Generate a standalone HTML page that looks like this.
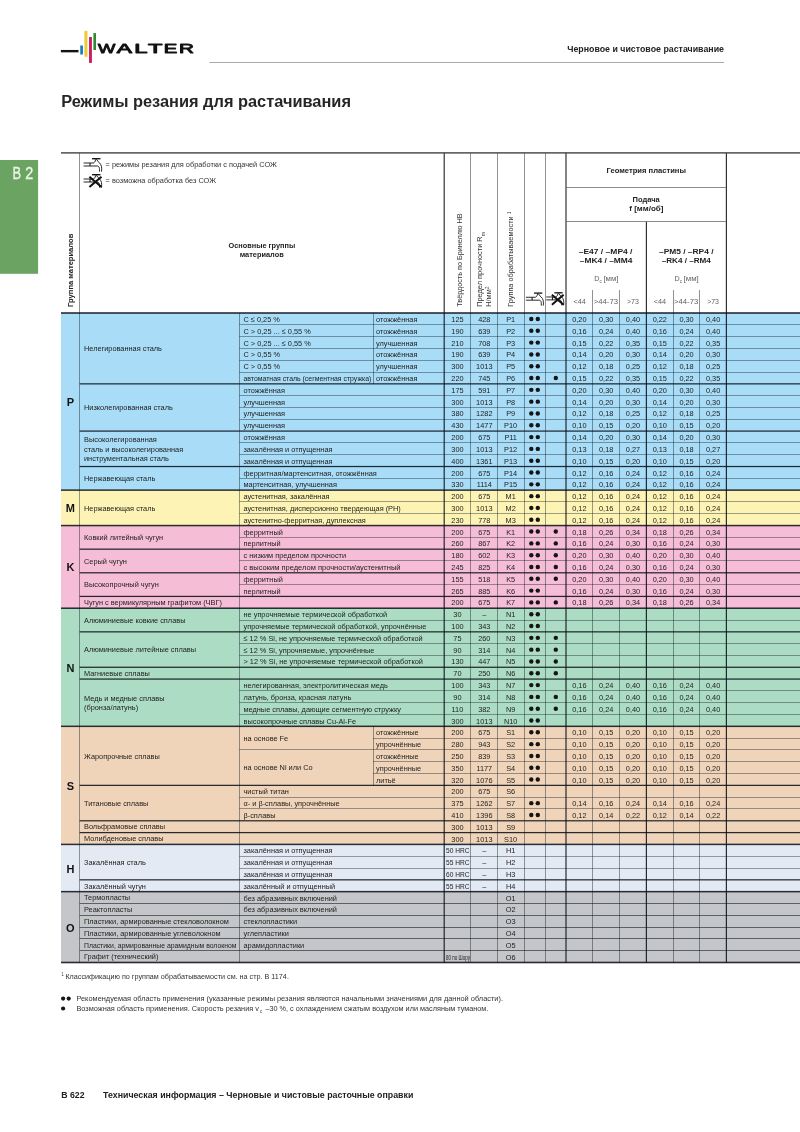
<!DOCTYPE html>
<html lang="ru"><head><meta charset="utf-8"><title>Режимы резания для растачивания</title>
<style>
html,body{margin:0;padding:0;background:#fff}
body{width:800px;height:1132px;overflow:hidden}
svg{display:block;font-family:"Liberation Sans",sans-serif}
text{white-space:pre}
</style></head><body>
<svg role="img" aria-label="Режимы резания для растачивания" width="800" height="1132" viewBox="0 0 800 1132">
<rect x="0" y="0" width="800" height="1132" fill="#ffffff"/>
<g id="page-header">
<rect x="209.50" y="62.00" width="514.50" height="1.00" fill="#a9a9a9"/>
<text x="567.20" y="52.00" font-size="8.7" font-weight="bold" fill="#222" textLength="156.80" lengthAdjust="spacingAndGlyphs">Черновое и чистовое растачивание</text>
<rect x="60.90" y="49.95" width="17.60" height="2.40" fill="#141414"/>
<rect x="80.25" y="45.50" width="2.70" height="9.00" fill="#1c7bbf"/>
<rect x="84.40" y="30.90" width="3.00" height="25.85" fill="#f2c932"/>
<rect x="89.05" y="37.05" width="2.85" height="25.85" fill="#cc1a5a"/>
<rect x="93.40" y="33.10" width="2.60" height="16.90" fill="#2f8a36"/>
<text y="53.10" font-size="13.2" fill="#111" stroke="#111" stroke-width="0.9" stroke-linejoin="round"><tspan x="98.00" textLength="17.30" lengthAdjust="spacingAndGlyphs">W</tspan><tspan x="116.70" textLength="15.20" lengthAdjust="spacingAndGlyphs">A</tspan><tspan x="134.20" textLength="13.30" lengthAdjust="spacingAndGlyphs">L</tspan><tspan x="147.90" textLength="14.50" lengthAdjust="spacingAndGlyphs">T</tspan><tspan x="163.80" textLength="13.50" lengthAdjust="spacingAndGlyphs">E</tspan><tspan x="178.90" textLength="14.90" lengthAdjust="spacingAndGlyphs">R</tspan></text>
</g>
<g id="page-title">
<text x="61.20" y="107.30" font-size="16" font-weight="bold" fill="#262626" textLength="289.80" lengthAdjust="spacingAndGlyphs">Режимы резания для растачивания</text>
</g>
<g id="chapter-tab">
<rect x="0.00" y="160.00" width="38.10" height="113.80" fill="#6ba462"/>
<text y="178.70" font-size="16.2" fill="#eaf6e2" stroke="#eaf6e2" stroke-width="0.35"><tspan x="12.60" textLength="8.60" lengthAdjust="spacingAndGlyphs">B</tspan> <tspan x="25.20" textLength="8.00" lengthAdjust="spacingAndGlyphs">2</tspan></text>
</g>
<g id="cutting-data-table">
<rect x="61.00" y="313.00" width="739.00" height="177.13" fill="#a8dcf7"/>
<rect x="61.00" y="490.13" width="739.00" height="35.43" fill="#fdf3b5"/>
<rect x="61.00" y="525.56" width="739.00" height="82.66" fill="#f6bdd7"/>
<rect x="61.00" y="608.22" width="739.00" height="118.09" fill="#acdcc3"/>
<rect x="61.00" y="726.32" width="739.00" height="118.09" fill="#f0d4ba"/>
<rect x="61.00" y="844.40" width="739.00" height="47.24" fill="#e3eaf4"/>
<rect x="61.00" y="891.64" width="739.00" height="70.85" fill="#c5c6c9"/>
<rect x="79.10" y="152.90" width="0.80" height="160.10" fill="#767676"/>
<rect x="470.10" y="152.90" width="0.80" height="160.10" fill="#767676"/>
<rect x="497.10" y="152.90" width="0.80" height="160.10" fill="#767676"/>
<rect x="524.10" y="152.90" width="0.80" height="160.10" fill="#767676"/>
<rect x="545.10" y="152.90" width="0.80" height="160.10" fill="#767676"/>
<rect x="443.62" y="152.90" width="1.15" height="160.10" fill="#2b2b2b"/>
<rect x="565.42" y="152.90" width="1.15" height="160.10" fill="#2b2b2b"/>
<rect x="725.82" y="152.90" width="1.15" height="160.10" fill="#2b2b2b"/>
<rect x="645.82" y="221.60" width="1.15" height="91.40" fill="#2b2b2b"/>
<rect x="592.10" y="290.00" width="0.80" height="23.00" fill="#767676"/>
<rect x="619.10" y="290.00" width="0.80" height="23.00" fill="#767676"/>
<rect x="673.10" y="290.00" width="0.80" height="23.00" fill="#767676"/>
<rect x="699.10" y="290.00" width="0.80" height="23.00" fill="#767676"/>
<rect x="566.00" y="187.10" width="160.40" height="0.80" fill="#6e6e6e"/>
<rect x="566.00" y="221.10" width="160.40" height="0.80" fill="#6e6e6e"/>
<rect x="61.00" y="152.22" width="739.00" height="1.35" fill="#3c3c3c"/>
<rect x="79.17" y="313.00" width="0.65" height="649.50" fill="rgba(10,20,30,0.64)"/>
<rect x="239.18" y="313.00" width="0.65" height="649.50" fill="rgba(10,20,30,0.64)"/>
<rect x="373.18" y="313.00" width="0.65" height="70.85" fill="rgba(10,20,30,0.64)"/>
<rect x="373.18" y="726.32" width="0.65" height="59.04" fill="rgba(10,20,30,0.64)"/>
<rect x="470.18" y="313.00" width="0.65" height="649.50" fill="rgba(10,20,30,0.64)"/>
<rect x="497.18" y="313.00" width="0.65" height="649.50" fill="rgba(10,20,30,0.64)"/>
<rect x="524.17" y="313.00" width="0.65" height="649.50" fill="rgba(10,20,30,0.64)"/>
<rect x="545.17" y="313.00" width="0.65" height="649.50" fill="rgba(10,20,30,0.64)"/>
<rect x="592.17" y="313.00" width="0.65" height="649.50" fill="rgba(10,20,30,0.64)"/>
<rect x="619.17" y="313.00" width="0.65" height="649.50" fill="rgba(10,20,30,0.64)"/>
<rect x="673.17" y="313.00" width="0.65" height="649.50" fill="rgba(10,20,30,0.64)"/>
<rect x="699.17" y="313.00" width="0.65" height="649.50" fill="rgba(10,20,30,0.64)"/>
<rect x="443.60" y="313.00" width="1.20" height="649.50" fill="rgba(8,14,22,0.86)"/>
<rect x="565.40" y="313.00" width="1.20" height="649.50" fill="rgba(8,14,22,0.86)"/>
<rect x="645.80" y="313.00" width="1.20" height="649.50" fill="rgba(8,14,22,0.86)"/>
<rect x="725.80" y="313.00" width="1.20" height="649.50" fill="rgba(8,14,22,0.86)"/>
<rect x="239.40" y="324.20" width="560.60" height="0.60" fill="rgba(10,20,30,0.64)"/>
<rect x="239.40" y="336.20" width="560.60" height="0.60" fill="rgba(10,20,30,0.64)"/>
<rect x="239.40" y="348.20" width="560.60" height="0.60" fill="rgba(10,20,30,0.64)"/>
<rect x="239.40" y="360.20" width="560.60" height="0.60" fill="rgba(10,20,30,0.64)"/>
<rect x="239.40" y="372.20" width="560.60" height="0.60" fill="rgba(10,20,30,0.64)"/>
<rect x="79.70" y="383.23" width="720.30" height="1.25" fill="rgba(8,14,22,0.86)"/>
<rect x="239.40" y="395.20" width="560.60" height="0.60" fill="rgba(10,20,30,0.64)"/>
<rect x="239.40" y="407.20" width="560.60" height="0.60" fill="rgba(10,20,30,0.64)"/>
<rect x="239.40" y="419.20" width="560.60" height="0.60" fill="rgba(10,20,30,0.64)"/>
<rect x="79.70" y="430.46" width="720.30" height="1.25" fill="rgba(8,14,22,0.86)"/>
<rect x="239.40" y="442.20" width="560.60" height="0.60" fill="rgba(10,20,30,0.64)"/>
<rect x="239.40" y="454.20" width="560.60" height="0.60" fill="rgba(10,20,30,0.64)"/>
<rect x="79.70" y="465.89" width="720.30" height="1.25" fill="rgba(8,14,22,0.86)"/>
<rect x="239.40" y="478.20" width="560.60" height="0.60" fill="rgba(10,20,30,0.64)"/>
<rect x="61.00" y="489.38" width="739.00" height="1.50" fill="rgba(8,14,22,0.86)"/>
<rect x="239.40" y="501.20" width="560.60" height="0.60" fill="rgba(10,20,30,0.64)"/>
<rect x="239.40" y="513.20" width="560.60" height="0.60" fill="rgba(10,20,30,0.64)"/>
<rect x="61.00" y="524.81" width="739.00" height="1.50" fill="rgba(8,14,22,0.86)"/>
<rect x="239.40" y="537.20" width="560.60" height="0.60" fill="rgba(10,20,30,0.64)"/>
<rect x="79.70" y="548.55" width="720.30" height="1.25" fill="rgba(8,14,22,0.86)"/>
<rect x="239.40" y="560.20" width="560.60" height="0.60" fill="rgba(10,20,30,0.64)"/>
<rect x="79.70" y="572.17" width="720.30" height="1.25" fill="rgba(8,14,22,0.86)"/>
<rect x="239.40" y="584.20" width="560.60" height="0.60" fill="rgba(10,20,30,0.64)"/>
<rect x="79.70" y="595.79" width="720.30" height="1.25" fill="rgba(8,14,22,0.86)"/>
<rect x="61.00" y="607.47" width="739.00" height="1.50" fill="rgba(8,14,22,0.86)"/>
<rect x="239.40" y="620.20" width="560.60" height="0.60" fill="rgba(10,20,30,0.64)"/>
<rect x="79.70" y="631.22" width="720.30" height="1.25" fill="rgba(8,14,22,0.86)"/>
<rect x="239.40" y="643.20" width="560.60" height="0.60" fill="rgba(10,20,30,0.64)"/>
<rect x="239.40" y="655.20" width="560.60" height="0.60" fill="rgba(10,20,30,0.64)"/>
<rect x="79.70" y="666.64" width="720.30" height="1.25" fill="rgba(8,14,22,0.86)"/>
<rect x="79.70" y="678.45" width="720.30" height="1.25" fill="rgba(8,14,22,0.86)"/>
<rect x="239.40" y="690.20" width="560.60" height="0.60" fill="rgba(10,20,30,0.64)"/>
<rect x="239.40" y="702.20" width="560.60" height="0.60" fill="rgba(10,20,30,0.64)"/>
<rect x="239.40" y="714.20" width="560.60" height="0.60" fill="rgba(10,20,30,0.64)"/>
<rect x="61.00" y="725.57" width="739.00" height="1.50" fill="rgba(8,14,22,0.86)"/>
<rect x="373.00" y="738.20" width="427.00" height="0.60" fill="rgba(10,20,30,0.64)"/>
<rect x="239.40" y="749.20" width="560.60" height="0.60" fill="rgba(10,20,30,0.64)"/>
<rect x="373.00" y="761.20" width="427.00" height="0.60" fill="rgba(10,20,30,0.64)"/>
<rect x="373.00" y="773.20" width="427.00" height="0.60" fill="rgba(10,20,30,0.64)"/>
<rect x="79.70" y="784.73" width="720.30" height="1.25" fill="rgba(8,14,22,0.86)"/>
<rect x="239.40" y="797.20" width="560.60" height="0.60" fill="rgba(10,20,30,0.64)"/>
<rect x="239.40" y="808.20" width="560.60" height="0.60" fill="rgba(10,20,30,0.64)"/>
<rect x="79.70" y="820.16" width="720.30" height="1.25" fill="rgba(8,14,22,0.86)"/>
<rect x="79.70" y="831.97" width="720.30" height="1.25" fill="rgba(8,14,22,0.86)"/>
<rect x="61.00" y="843.65" width="739.00" height="1.50" fill="rgba(8,14,22,0.86)"/>
<rect x="239.40" y="856.20" width="560.60" height="0.60" fill="rgba(10,20,30,0.64)"/>
<rect x="239.40" y="868.20" width="560.60" height="0.60" fill="rgba(10,20,30,0.64)"/>
<rect x="79.70" y="879.21" width="720.30" height="1.25" fill="rgba(8,14,22,0.86)"/>
<rect x="61.00" y="890.89" width="739.00" height="1.50" fill="rgba(8,14,22,0.86)"/>
<rect x="79.70" y="903.05" width="720.30" height="0.90" fill="rgba(10,20,30,0.64)"/>
<rect x="79.70" y="915.05" width="720.30" height="0.90" fill="rgba(10,20,30,0.64)"/>
<rect x="79.70" y="927.05" width="720.30" height="0.90" fill="rgba(10,20,30,0.64)"/>
<rect x="79.70" y="938.05" width="720.30" height="0.90" fill="rgba(10,20,30,0.64)"/>
<rect x="79.70" y="950.05" width="720.30" height="0.90" fill="rgba(10,20,30,0.64)"/>
<rect x="61.00" y="312.20" width="739.00" height="1.60" fill="rgba(8,14,22,0.86)"/>
<rect x="61.00" y="961.70" width="739.00" height="1.60" fill="rgba(8,14,22,0.86)"/>
<text x="66.68" y="406.07" font-size="11" font-weight="bold" fill="#111" textLength="7.34" lengthAdjust="spacingAndGlyphs">P</text>
<text x="65.77" y="512.35" font-size="11" font-weight="bold" fill="#111" textLength="9.16" lengthAdjust="spacingAndGlyphs">M</text>
<text x="66.38" y="571.39" font-size="11" font-weight="bold" fill="#111" textLength="7.94" lengthAdjust="spacingAndGlyphs">K</text>
<text x="66.38" y="671.77" font-size="11" font-weight="bold" fill="#111" textLength="7.94" lengthAdjust="spacingAndGlyphs">N</text>
<text x="66.68" y="789.86" font-size="11" font-weight="bold" fill="#111" textLength="7.34" lengthAdjust="spacingAndGlyphs">S</text>
<text x="66.38" y="872.52" font-size="11" font-weight="bold" fill="#111" textLength="7.94" lengthAdjust="spacingAndGlyphs">H</text>
<text x="66.07" y="931.57" font-size="11" font-weight="bold" fill="#111" textLength="8.56" lengthAdjust="spacingAndGlyphs">O</text>
<text x="84.00" y="351.23" font-size="8.0" fill="#1d1d1b" textLength="77.90" lengthAdjust="spacingAndGlyphs">Нелегированная сталь</text>
<text x="84.00" y="410.27" font-size="8.0" fill="#1d1d1b" textLength="88.77" lengthAdjust="spacingAndGlyphs">Низколегированная сталь</text>
<text x="84.00" y="442.10" font-size="8.0" fill="#1d1d1b" textLength="72.79" lengthAdjust="spacingAndGlyphs">Высоколегированная</text>
<text x="84.00" y="451.60" font-size="8.0" fill="#1d1d1b" textLength="99.18" lengthAdjust="spacingAndGlyphs">сталь и высоколегированная</text>
<text x="84.00" y="461.10" font-size="8.0" fill="#1d1d1b" textLength="84.94" lengthAdjust="spacingAndGlyphs">инструментальная сталь</text>
<text x="84.00" y="481.13" font-size="8.0" fill="#1d1d1b" textLength="71.33" lengthAdjust="spacingAndGlyphs">Нержавеющая сталь</text>
<text x="84.00" y="510.65" font-size="8.0" fill="#1d1d1b" textLength="71.33" lengthAdjust="spacingAndGlyphs">Нержавеющая сталь</text>
<text x="84.00" y="540.17" font-size="8.0" fill="#1d1d1b" textLength="79.13" lengthAdjust="spacingAndGlyphs">Ковкий литейный чугун</text>
<text x="84.00" y="563.79" font-size="8.0" fill="#1d1d1b" textLength="42.89" lengthAdjust="spacingAndGlyphs">Серый чугун</text>
<text x="84.00" y="587.41" font-size="8.0" fill="#1d1d1b" textLength="74.75" lengthAdjust="spacingAndGlyphs">Высокопрочный чугун</text>
<text x="84.00" y="605.12" font-size="8.0" fill="#1d1d1b" textLength="137.85" lengthAdjust="spacingAndGlyphs">Чугун с вермикулярным графитом (ЧВГ)</text>
<text x="84.00" y="622.83" font-size="8.0" fill="#1d1d1b" textLength="101.45" lengthAdjust="spacingAndGlyphs">Алюминиевые ковкие сплавы</text>
<text x="84.00" y="652.36" font-size="8.0" fill="#1d1d1b" textLength="112.06" lengthAdjust="spacingAndGlyphs">Алюминиевые литейные сплавы</text>
<text x="84.00" y="675.97" font-size="8.0" fill="#1d1d1b" textLength="65.85" lengthAdjust="spacingAndGlyphs">Магниевые сплавы</text>
<text x="84.00" y="700.75" font-size="8.0" fill="#1d1d1b" textLength="80.51" lengthAdjust="spacingAndGlyphs">Медь и медные сплавы</text>
<text x="84.00" y="710.25" font-size="8.0" fill="#1d1d1b" textLength="54.14" lengthAdjust="spacingAndGlyphs">(бронза/латунь)</text>
<text x="84.00" y="758.64" font-size="8.0" fill="#1d1d1b" textLength="75.75" lengthAdjust="spacingAndGlyphs">Жаропрочные сплавы</text>
<text x="84.00" y="805.87" font-size="8.0" fill="#1d1d1b" textLength="64.41" lengthAdjust="spacingAndGlyphs">Титановые сплавы</text>
<text x="84.00" y="829.49" font-size="8.0" fill="#1d1d1b" textLength="80.96" lengthAdjust="spacingAndGlyphs">Вольфрамовые сплавы</text>
<text x="84.00" y="841.30" font-size="8.0" fill="#1d1d1b" textLength="79.57" lengthAdjust="spacingAndGlyphs">Молибденовые сплавы</text>
<text x="84.00" y="864.92" font-size="8.0" fill="#1d1d1b" textLength="61.85" lengthAdjust="spacingAndGlyphs">Закалённая сталь</text>
<text x="84.00" y="888.54" font-size="8.0" fill="#1d1d1b" textLength="61.92" lengthAdjust="spacingAndGlyphs">Закалённый чугун</text>
<text x="84.00" y="900.35" font-size="8.0" fill="#1d1d1b" textLength="46.14" lengthAdjust="spacingAndGlyphs">Термопласты</text>
<text x="84.00" y="912.15" font-size="8.0" fill="#1d1d1b" textLength="48.17" lengthAdjust="spacingAndGlyphs">Реактопласты</text>
<text x="84.00" y="923.96" font-size="8.0" fill="#1d1d1b" textLength="144.79" lengthAdjust="spacingAndGlyphs">Пластики, армированные стекловолокном</text>
<text x="84.00" y="935.77" font-size="8.0" fill="#1d1d1b" textLength="136.54" lengthAdjust="spacingAndGlyphs">Пластики, армированные углеволокном</text>
<text x="84.00" y="947.58" font-size="8.0" fill="#1d1d1b" textLength="152.50" lengthAdjust="spacingAndGlyphs">Пластики, армированные арамидным волокном</text>
<text x="84.00" y="959.39" font-size="8.0" fill="#1d1d1b" textLength="74.37" lengthAdjust="spacingAndGlyphs">Графит (технический)</text>
<text x="243.50" y="322.00" font-size="8.0" fill="#1d1d1b" textLength="36.36" lengthAdjust="spacingAndGlyphs">C ≤ 0,25 %</text>
<text x="376.00" y="322.00" font-size="8.0" fill="#1d1d1b" textLength="41.38" lengthAdjust="spacingAndGlyphs">отожжённая</text>
<text x="451.31" y="322.00" font-size="8.0" fill="#1d1d1b" textLength="12.28" lengthAdjust="spacingAndGlyphs">125</text>
<text x="478.16" y="322.00" font-size="8.0" fill="#1d1d1b" textLength="12.28" lengthAdjust="spacingAndGlyphs">428</text>
<text x="506.15" y="322.00" font-size="8.0" fill="#1d1d1b" textLength="9.00" lengthAdjust="spacingAndGlyphs">P1</text>
<circle cx="531.3" cy="319.00" r="2.2" fill="#151515"/><circle cx="537.8" cy="319.00" r="2.2" fill="#151515"/>
<text x="572.24" y="322.00" font-size="8.0" fill="#1d1d1b" textLength="14.32" lengthAdjust="spacingAndGlyphs">0,20</text>
<text x="599.04" y="322.00" font-size="8.0" fill="#1d1d1b" textLength="14.32" lengthAdjust="spacingAndGlyphs">0,30</text>
<text x="625.84" y="322.00" font-size="8.0" fill="#1d1d1b" textLength="14.32" lengthAdjust="spacingAndGlyphs">0,40</text>
<text x="652.64" y="322.00" font-size="8.0" fill="#1d1d1b" textLength="14.32" lengthAdjust="spacingAndGlyphs">0,22</text>
<text x="679.39" y="322.00" font-size="8.0" fill="#1d1d1b" textLength="14.32" lengthAdjust="spacingAndGlyphs">0,30</text>
<text x="705.99" y="322.00" font-size="8.0" fill="#1d1d1b" textLength="14.32" lengthAdjust="spacingAndGlyphs">0,40</text>
<text x="243.50" y="333.81" font-size="8.0" fill="#1d1d1b" textLength="67.25" lengthAdjust="spacingAndGlyphs">C &gt; 0,25 ... ≤ 0,55 %</text>
<text x="376.00" y="333.81" font-size="8.0" fill="#1d1d1b" textLength="41.38" lengthAdjust="spacingAndGlyphs">отожжённая</text>
<text x="451.31" y="333.81" font-size="8.0" fill="#1d1d1b" textLength="12.28" lengthAdjust="spacingAndGlyphs">190</text>
<text x="478.16" y="333.81" font-size="8.0" fill="#1d1d1b" textLength="12.28" lengthAdjust="spacingAndGlyphs">639</text>
<text x="506.15" y="333.81" font-size="8.0" fill="#1d1d1b" textLength="9.00" lengthAdjust="spacingAndGlyphs">P2</text>
<circle cx="531.3" cy="330.81" r="2.2" fill="#151515"/><circle cx="537.8" cy="330.81" r="2.2" fill="#151515"/>
<text x="572.24" y="333.81" font-size="8.0" fill="#1d1d1b" textLength="14.32" lengthAdjust="spacingAndGlyphs">0,16</text>
<text x="599.04" y="333.81" font-size="8.0" fill="#1d1d1b" textLength="14.32" lengthAdjust="spacingAndGlyphs">0,24</text>
<text x="625.84" y="333.81" font-size="8.0" fill="#1d1d1b" textLength="14.32" lengthAdjust="spacingAndGlyphs">0,40</text>
<text x="652.64" y="333.81" font-size="8.0" fill="#1d1d1b" textLength="14.32" lengthAdjust="spacingAndGlyphs">0,16</text>
<text x="679.39" y="333.81" font-size="8.0" fill="#1d1d1b" textLength="14.32" lengthAdjust="spacingAndGlyphs">0,24</text>
<text x="705.99" y="333.81" font-size="8.0" fill="#1d1d1b" textLength="14.32" lengthAdjust="spacingAndGlyphs">0,40</text>
<text x="243.50" y="345.62" font-size="8.0" fill="#1d1d1b" textLength="67.25" lengthAdjust="spacingAndGlyphs">C &gt; 0,25 ... ≤ 0,55 %</text>
<text x="376.00" y="345.62" font-size="8.0" fill="#1d1d1b" textLength="41.53" lengthAdjust="spacingAndGlyphs">улучшенная</text>
<text x="451.31" y="345.62" font-size="8.0" fill="#1d1d1b" textLength="12.28" lengthAdjust="spacingAndGlyphs">210</text>
<text x="478.16" y="345.62" font-size="8.0" fill="#1d1d1b" textLength="12.28" lengthAdjust="spacingAndGlyphs">708</text>
<text x="506.15" y="345.62" font-size="8.0" fill="#1d1d1b" textLength="9.00" lengthAdjust="spacingAndGlyphs">P3</text>
<circle cx="531.3" cy="342.62" r="2.2" fill="#151515"/><circle cx="537.8" cy="342.62" r="2.2" fill="#151515"/>
<text x="572.24" y="345.62" font-size="8.0" fill="#1d1d1b" textLength="14.32" lengthAdjust="spacingAndGlyphs">0,15</text>
<text x="599.04" y="345.62" font-size="8.0" fill="#1d1d1b" textLength="14.32" lengthAdjust="spacingAndGlyphs">0,22</text>
<text x="625.84" y="345.62" font-size="8.0" fill="#1d1d1b" textLength="14.32" lengthAdjust="spacingAndGlyphs">0,35</text>
<text x="652.64" y="345.62" font-size="8.0" fill="#1d1d1b" textLength="14.32" lengthAdjust="spacingAndGlyphs">0,15</text>
<text x="679.39" y="345.62" font-size="8.0" fill="#1d1d1b" textLength="14.32" lengthAdjust="spacingAndGlyphs">0,22</text>
<text x="705.99" y="345.62" font-size="8.0" fill="#1d1d1b" textLength="14.32" lengthAdjust="spacingAndGlyphs">0,35</text>
<text x="243.50" y="357.43" font-size="8.0" fill="#1d1d1b" textLength="36.62" lengthAdjust="spacingAndGlyphs">C &gt; 0,55 %</text>
<text x="376.00" y="357.43" font-size="8.0" fill="#1d1d1b" textLength="41.38" lengthAdjust="spacingAndGlyphs">отожжённая</text>
<text x="451.31" y="357.43" font-size="8.0" fill="#1d1d1b" textLength="12.28" lengthAdjust="spacingAndGlyphs">190</text>
<text x="478.16" y="357.43" font-size="8.0" fill="#1d1d1b" textLength="12.28" lengthAdjust="spacingAndGlyphs">639</text>
<text x="506.15" y="357.43" font-size="8.0" fill="#1d1d1b" textLength="9.00" lengthAdjust="spacingAndGlyphs">P4</text>
<circle cx="531.3" cy="354.43" r="2.2" fill="#151515"/><circle cx="537.8" cy="354.43" r="2.2" fill="#151515"/>
<text x="572.24" y="357.43" font-size="8.0" fill="#1d1d1b" textLength="14.32" lengthAdjust="spacingAndGlyphs">0,14</text>
<text x="599.04" y="357.43" font-size="8.0" fill="#1d1d1b" textLength="14.32" lengthAdjust="spacingAndGlyphs">0,20</text>
<text x="625.84" y="357.43" font-size="8.0" fill="#1d1d1b" textLength="14.32" lengthAdjust="spacingAndGlyphs">0,30</text>
<text x="652.64" y="357.43" font-size="8.0" fill="#1d1d1b" textLength="14.32" lengthAdjust="spacingAndGlyphs">0,14</text>
<text x="679.39" y="357.43" font-size="8.0" fill="#1d1d1b" textLength="14.32" lengthAdjust="spacingAndGlyphs">0,20</text>
<text x="705.99" y="357.43" font-size="8.0" fill="#1d1d1b" textLength="14.32" lengthAdjust="spacingAndGlyphs">0,30</text>
<text x="243.50" y="369.24" font-size="8.0" fill="#1d1d1b" textLength="36.62" lengthAdjust="spacingAndGlyphs">C &gt; 0,55 %</text>
<text x="376.00" y="369.24" font-size="8.0" fill="#1d1d1b" textLength="41.53" lengthAdjust="spacingAndGlyphs">улучшенная</text>
<text x="451.31" y="369.24" font-size="8.0" fill="#1d1d1b" textLength="12.28" lengthAdjust="spacingAndGlyphs">300</text>
<text x="476.11" y="369.24" font-size="8.0" fill="#1d1d1b" textLength="16.37" lengthAdjust="spacingAndGlyphs">1013</text>
<text x="506.15" y="369.24" font-size="8.0" fill="#1d1d1b" textLength="9.00" lengthAdjust="spacingAndGlyphs">P5</text>
<circle cx="531.3" cy="366.24" r="2.2" fill="#151515"/><circle cx="537.8" cy="366.24" r="2.2" fill="#151515"/>
<text x="572.24" y="369.24" font-size="8.0" fill="#1d1d1b" textLength="14.32" lengthAdjust="spacingAndGlyphs">0,12</text>
<text x="599.04" y="369.24" font-size="8.0" fill="#1d1d1b" textLength="14.32" lengthAdjust="spacingAndGlyphs">0,18</text>
<text x="625.84" y="369.24" font-size="8.0" fill="#1d1d1b" textLength="14.32" lengthAdjust="spacingAndGlyphs">0,25</text>
<text x="652.64" y="369.24" font-size="8.0" fill="#1d1d1b" textLength="14.32" lengthAdjust="spacingAndGlyphs">0,12</text>
<text x="679.39" y="369.24" font-size="8.0" fill="#1d1d1b" textLength="14.32" lengthAdjust="spacingAndGlyphs">0,18</text>
<text x="705.99" y="369.24" font-size="8.0" fill="#1d1d1b" textLength="14.32" lengthAdjust="spacingAndGlyphs">0,25</text>
<text x="243.50" y="381.05" font-size="8.0" fill="#1d1d1b" textLength="127.80" lengthAdjust="spacingAndGlyphs">автоматная сталь (сегментная стружка)</text>
<text x="376.00" y="381.05" font-size="8.0" fill="#1d1d1b" textLength="41.38" lengthAdjust="spacingAndGlyphs">отожжённая</text>
<text x="451.31" y="381.05" font-size="8.0" fill="#1d1d1b" textLength="12.28" lengthAdjust="spacingAndGlyphs">220</text>
<text x="478.16" y="381.05" font-size="8.0" fill="#1d1d1b" textLength="12.28" lengthAdjust="spacingAndGlyphs">745</text>
<text x="506.15" y="381.05" font-size="8.0" fill="#1d1d1b" textLength="9.00" lengthAdjust="spacingAndGlyphs">P6</text>
<circle cx="531.3" cy="378.05" r="2.2" fill="#151515"/><circle cx="537.8" cy="378.05" r="2.2" fill="#151515"/>
<circle cx="555.8" cy="378.05" r="2.2" fill="#151515"/>
<text x="572.24" y="381.05" font-size="8.0" fill="#1d1d1b" textLength="14.32" lengthAdjust="spacingAndGlyphs">0,15</text>
<text x="599.04" y="381.05" font-size="8.0" fill="#1d1d1b" textLength="14.32" lengthAdjust="spacingAndGlyphs">0,22</text>
<text x="625.84" y="381.05" font-size="8.0" fill="#1d1d1b" textLength="14.32" lengthAdjust="spacingAndGlyphs">0,35</text>
<text x="652.64" y="381.05" font-size="8.0" fill="#1d1d1b" textLength="14.32" lengthAdjust="spacingAndGlyphs">0,15</text>
<text x="679.39" y="381.05" font-size="8.0" fill="#1d1d1b" textLength="14.32" lengthAdjust="spacingAndGlyphs">0,22</text>
<text x="705.99" y="381.05" font-size="8.0" fill="#1d1d1b" textLength="14.32" lengthAdjust="spacingAndGlyphs">0,35</text>
<text x="243.50" y="392.85" font-size="8.0" fill="#1d1d1b" textLength="41.38" lengthAdjust="spacingAndGlyphs">отожжённая</text>
<text x="451.31" y="392.85" font-size="8.0" fill="#1d1d1b" textLength="12.28" lengthAdjust="spacingAndGlyphs">175</text>
<text x="478.16" y="392.85" font-size="8.0" fill="#1d1d1b" textLength="12.28" lengthAdjust="spacingAndGlyphs">591</text>
<text x="506.15" y="392.85" font-size="8.0" fill="#1d1d1b" textLength="9.00" lengthAdjust="spacingAndGlyphs">P7</text>
<circle cx="531.3" cy="389.86" r="2.2" fill="#151515"/><circle cx="537.8" cy="389.86" r="2.2" fill="#151515"/>
<text x="572.24" y="392.85" font-size="8.0" fill="#1d1d1b" textLength="14.32" lengthAdjust="spacingAndGlyphs">0,20</text>
<text x="599.04" y="392.85" font-size="8.0" fill="#1d1d1b" textLength="14.32" lengthAdjust="spacingAndGlyphs">0,30</text>
<text x="625.84" y="392.85" font-size="8.0" fill="#1d1d1b" textLength="14.32" lengthAdjust="spacingAndGlyphs">0,40</text>
<text x="652.64" y="392.85" font-size="8.0" fill="#1d1d1b" textLength="14.32" lengthAdjust="spacingAndGlyphs">0,20</text>
<text x="679.39" y="392.85" font-size="8.0" fill="#1d1d1b" textLength="14.32" lengthAdjust="spacingAndGlyphs">0,30</text>
<text x="705.99" y="392.85" font-size="8.0" fill="#1d1d1b" textLength="14.32" lengthAdjust="spacingAndGlyphs">0,40</text>
<text x="243.50" y="404.66" font-size="8.0" fill="#1d1d1b" textLength="41.53" lengthAdjust="spacingAndGlyphs">улучшенная</text>
<text x="451.31" y="404.66" font-size="8.0" fill="#1d1d1b" textLength="12.28" lengthAdjust="spacingAndGlyphs">300</text>
<text x="476.11" y="404.66" font-size="8.0" fill="#1d1d1b" textLength="16.37" lengthAdjust="spacingAndGlyphs">1013</text>
<text x="506.15" y="404.66" font-size="8.0" fill="#1d1d1b" textLength="9.00" lengthAdjust="spacingAndGlyphs">P8</text>
<circle cx="531.3" cy="401.67" r="2.2" fill="#151515"/><circle cx="537.8" cy="401.67" r="2.2" fill="#151515"/>
<text x="572.24" y="404.66" font-size="8.0" fill="#1d1d1b" textLength="14.32" lengthAdjust="spacingAndGlyphs">0,14</text>
<text x="599.04" y="404.66" font-size="8.0" fill="#1d1d1b" textLength="14.32" lengthAdjust="spacingAndGlyphs">0,20</text>
<text x="625.84" y="404.66" font-size="8.0" fill="#1d1d1b" textLength="14.32" lengthAdjust="spacingAndGlyphs">0,30</text>
<text x="652.64" y="404.66" font-size="8.0" fill="#1d1d1b" textLength="14.32" lengthAdjust="spacingAndGlyphs">0,14</text>
<text x="679.39" y="404.66" font-size="8.0" fill="#1d1d1b" textLength="14.32" lengthAdjust="spacingAndGlyphs">0,20</text>
<text x="705.99" y="404.66" font-size="8.0" fill="#1d1d1b" textLength="14.32" lengthAdjust="spacingAndGlyphs">0,30</text>
<text x="243.50" y="416.47" font-size="8.0" fill="#1d1d1b" textLength="41.53" lengthAdjust="spacingAndGlyphs">улучшенная</text>
<text x="451.31" y="416.47" font-size="8.0" fill="#1d1d1b" textLength="12.28" lengthAdjust="spacingAndGlyphs">380</text>
<text x="476.11" y="416.47" font-size="8.0" fill="#1d1d1b" textLength="16.37" lengthAdjust="spacingAndGlyphs">1282</text>
<text x="506.15" y="416.47" font-size="8.0" fill="#1d1d1b" textLength="9.00" lengthAdjust="spacingAndGlyphs">P9</text>
<circle cx="531.3" cy="413.48" r="2.2" fill="#151515"/><circle cx="537.8" cy="413.48" r="2.2" fill="#151515"/>
<text x="572.24" y="416.47" font-size="8.0" fill="#1d1d1b" textLength="14.32" lengthAdjust="spacingAndGlyphs">0,12</text>
<text x="599.04" y="416.47" font-size="8.0" fill="#1d1d1b" textLength="14.32" lengthAdjust="spacingAndGlyphs">0,18</text>
<text x="625.84" y="416.47" font-size="8.0" fill="#1d1d1b" textLength="14.32" lengthAdjust="spacingAndGlyphs">0,25</text>
<text x="652.64" y="416.47" font-size="8.0" fill="#1d1d1b" textLength="14.32" lengthAdjust="spacingAndGlyphs">0,12</text>
<text x="679.39" y="416.47" font-size="8.0" fill="#1d1d1b" textLength="14.32" lengthAdjust="spacingAndGlyphs">0,18</text>
<text x="705.99" y="416.47" font-size="8.0" fill="#1d1d1b" textLength="14.32" lengthAdjust="spacingAndGlyphs">0,25</text>
<text x="243.50" y="428.28" font-size="8.0" fill="#1d1d1b" textLength="41.53" lengthAdjust="spacingAndGlyphs">улучшенная</text>
<text x="451.31" y="428.28" font-size="8.0" fill="#1d1d1b" textLength="12.28" lengthAdjust="spacingAndGlyphs">430</text>
<text x="476.11" y="428.28" font-size="8.0" fill="#1d1d1b" textLength="16.37" lengthAdjust="spacingAndGlyphs">1477</text>
<text x="504.10" y="428.28" font-size="8.0" fill="#1d1d1b" textLength="13.10" lengthAdjust="spacingAndGlyphs">P10</text>
<circle cx="531.3" cy="425.29" r="2.2" fill="#151515"/><circle cx="537.8" cy="425.29" r="2.2" fill="#151515"/>
<text x="572.24" y="428.28" font-size="8.0" fill="#1d1d1b" textLength="14.32" lengthAdjust="spacingAndGlyphs">0,10</text>
<text x="599.04" y="428.28" font-size="8.0" fill="#1d1d1b" textLength="14.32" lengthAdjust="spacingAndGlyphs">0,15</text>
<text x="625.84" y="428.28" font-size="8.0" fill="#1d1d1b" textLength="14.32" lengthAdjust="spacingAndGlyphs">0,20</text>
<text x="652.64" y="428.28" font-size="8.0" fill="#1d1d1b" textLength="14.32" lengthAdjust="spacingAndGlyphs">0,10</text>
<text x="679.39" y="428.28" font-size="8.0" fill="#1d1d1b" textLength="14.32" lengthAdjust="spacingAndGlyphs">0,15</text>
<text x="705.99" y="428.28" font-size="8.0" fill="#1d1d1b" textLength="14.32" lengthAdjust="spacingAndGlyphs">0,20</text>
<text x="243.50" y="440.09" font-size="8.0" fill="#1d1d1b" textLength="41.38" lengthAdjust="spacingAndGlyphs">отожжённая</text>
<text x="451.31" y="440.09" font-size="8.0" fill="#1d1d1b" textLength="12.28" lengthAdjust="spacingAndGlyphs">200</text>
<text x="478.16" y="440.09" font-size="8.0" fill="#1d1d1b" textLength="12.28" lengthAdjust="spacingAndGlyphs">675</text>
<text x="504.38" y="440.09" font-size="8.0" fill="#1d1d1b" textLength="12.55" lengthAdjust="spacingAndGlyphs">P11</text>
<circle cx="531.3" cy="437.09" r="2.2" fill="#151515"/><circle cx="537.8" cy="437.09" r="2.2" fill="#151515"/>
<text x="572.24" y="440.09" font-size="8.0" fill="#1d1d1b" textLength="14.32" lengthAdjust="spacingAndGlyphs">0,14</text>
<text x="599.04" y="440.09" font-size="8.0" fill="#1d1d1b" textLength="14.32" lengthAdjust="spacingAndGlyphs">0,20</text>
<text x="625.84" y="440.09" font-size="8.0" fill="#1d1d1b" textLength="14.32" lengthAdjust="spacingAndGlyphs">0,30</text>
<text x="652.64" y="440.09" font-size="8.0" fill="#1d1d1b" textLength="14.32" lengthAdjust="spacingAndGlyphs">0,14</text>
<text x="679.39" y="440.09" font-size="8.0" fill="#1d1d1b" textLength="14.32" lengthAdjust="spacingAndGlyphs">0,20</text>
<text x="705.99" y="440.09" font-size="8.0" fill="#1d1d1b" textLength="14.32" lengthAdjust="spacingAndGlyphs">0,30</text>
<text x="243.50" y="451.90" font-size="8.0" fill="#1d1d1b" textLength="88.98" lengthAdjust="spacingAndGlyphs">закалённая и отпущенная</text>
<text x="451.31" y="451.90" font-size="8.0" fill="#1d1d1b" textLength="12.28" lengthAdjust="spacingAndGlyphs">300</text>
<text x="476.11" y="451.90" font-size="8.0" fill="#1d1d1b" textLength="16.37" lengthAdjust="spacingAndGlyphs">1013</text>
<text x="504.10" y="451.90" font-size="8.0" fill="#1d1d1b" textLength="13.10" lengthAdjust="spacingAndGlyphs">P12</text>
<circle cx="531.3" cy="448.90" r="2.2" fill="#151515"/><circle cx="537.8" cy="448.90" r="2.2" fill="#151515"/>
<text x="572.24" y="451.90" font-size="8.0" fill="#1d1d1b" textLength="14.32" lengthAdjust="spacingAndGlyphs">0,13</text>
<text x="599.04" y="451.90" font-size="8.0" fill="#1d1d1b" textLength="14.32" lengthAdjust="spacingAndGlyphs">0,18</text>
<text x="625.84" y="451.90" font-size="8.0" fill="#1d1d1b" textLength="14.32" lengthAdjust="spacingAndGlyphs">0,27</text>
<text x="652.64" y="451.90" font-size="8.0" fill="#1d1d1b" textLength="14.32" lengthAdjust="spacingAndGlyphs">0,13</text>
<text x="679.39" y="451.90" font-size="8.0" fill="#1d1d1b" textLength="14.32" lengthAdjust="spacingAndGlyphs">0,18</text>
<text x="705.99" y="451.90" font-size="8.0" fill="#1d1d1b" textLength="14.32" lengthAdjust="spacingAndGlyphs">0,27</text>
<text x="243.50" y="463.71" font-size="8.0" fill="#1d1d1b" textLength="88.98" lengthAdjust="spacingAndGlyphs">закалённая и отпущенная</text>
<text x="451.31" y="463.71" font-size="8.0" fill="#1d1d1b" textLength="12.28" lengthAdjust="spacingAndGlyphs">400</text>
<text x="476.11" y="463.71" font-size="8.0" fill="#1d1d1b" textLength="16.37" lengthAdjust="spacingAndGlyphs">1361</text>
<text x="504.10" y="463.71" font-size="8.0" fill="#1d1d1b" textLength="13.10" lengthAdjust="spacingAndGlyphs">P13</text>
<circle cx="531.3" cy="460.71" r="2.2" fill="#151515"/><circle cx="537.8" cy="460.71" r="2.2" fill="#151515"/>
<text x="572.24" y="463.71" font-size="8.0" fill="#1d1d1b" textLength="14.32" lengthAdjust="spacingAndGlyphs">0,10</text>
<text x="599.04" y="463.71" font-size="8.0" fill="#1d1d1b" textLength="14.32" lengthAdjust="spacingAndGlyphs">0,15</text>
<text x="625.84" y="463.71" font-size="8.0" fill="#1d1d1b" textLength="14.32" lengthAdjust="spacingAndGlyphs">0,20</text>
<text x="652.64" y="463.71" font-size="8.0" fill="#1d1d1b" textLength="14.32" lengthAdjust="spacingAndGlyphs">0,10</text>
<text x="679.39" y="463.71" font-size="8.0" fill="#1d1d1b" textLength="14.32" lengthAdjust="spacingAndGlyphs">0,15</text>
<text x="705.99" y="463.71" font-size="8.0" fill="#1d1d1b" textLength="14.32" lengthAdjust="spacingAndGlyphs">0,20</text>
<text x="243.50" y="475.52" font-size="8.0" fill="#1d1d1b" textLength="133.31" lengthAdjust="spacingAndGlyphs">ферритная/мартенситная, отожжённая</text>
<text x="451.31" y="475.52" font-size="8.0" fill="#1d1d1b" textLength="12.28" lengthAdjust="spacingAndGlyphs">200</text>
<text x="478.16" y="475.52" font-size="8.0" fill="#1d1d1b" textLength="12.28" lengthAdjust="spacingAndGlyphs">675</text>
<text x="504.10" y="475.52" font-size="8.0" fill="#1d1d1b" textLength="13.10" lengthAdjust="spacingAndGlyphs">P14</text>
<circle cx="531.3" cy="472.52" r="2.2" fill="#151515"/><circle cx="537.8" cy="472.52" r="2.2" fill="#151515"/>
<text x="572.24" y="475.52" font-size="8.0" fill="#1d1d1b" textLength="14.32" lengthAdjust="spacingAndGlyphs">0,12</text>
<text x="599.04" y="475.52" font-size="8.0" fill="#1d1d1b" textLength="14.32" lengthAdjust="spacingAndGlyphs">0,16</text>
<text x="625.84" y="475.52" font-size="8.0" fill="#1d1d1b" textLength="14.32" lengthAdjust="spacingAndGlyphs">0,24</text>
<text x="652.64" y="475.52" font-size="8.0" fill="#1d1d1b" textLength="14.32" lengthAdjust="spacingAndGlyphs">0,12</text>
<text x="679.39" y="475.52" font-size="8.0" fill="#1d1d1b" textLength="14.32" lengthAdjust="spacingAndGlyphs">0,16</text>
<text x="705.99" y="475.52" font-size="8.0" fill="#1d1d1b" textLength="14.32" lengthAdjust="spacingAndGlyphs">0,24</text>
<text x="243.50" y="487.33" font-size="8.0" fill="#1d1d1b" textLength="93.46" lengthAdjust="spacingAndGlyphs">мартенситная, улучшенная</text>
<text x="451.31" y="487.33" font-size="8.0" fill="#1d1d1b" textLength="12.28" lengthAdjust="spacingAndGlyphs">330</text>
<text x="476.66" y="487.33" font-size="8.0" fill="#1d1d1b" textLength="15.28" lengthAdjust="spacingAndGlyphs">1114</text>
<text x="504.10" y="487.33" font-size="8.0" fill="#1d1d1b" textLength="13.10" lengthAdjust="spacingAndGlyphs">P15</text>
<circle cx="531.3" cy="484.33" r="2.2" fill="#151515"/><circle cx="537.8" cy="484.33" r="2.2" fill="#151515"/>
<text x="572.24" y="487.33" font-size="8.0" fill="#1d1d1b" textLength="14.32" lengthAdjust="spacingAndGlyphs">0,12</text>
<text x="599.04" y="487.33" font-size="8.0" fill="#1d1d1b" textLength="14.32" lengthAdjust="spacingAndGlyphs">0,16</text>
<text x="625.84" y="487.33" font-size="8.0" fill="#1d1d1b" textLength="14.32" lengthAdjust="spacingAndGlyphs">0,24</text>
<text x="652.64" y="487.33" font-size="8.0" fill="#1d1d1b" textLength="14.32" lengthAdjust="spacingAndGlyphs">0,12</text>
<text x="679.39" y="487.33" font-size="8.0" fill="#1d1d1b" textLength="14.32" lengthAdjust="spacingAndGlyphs">0,16</text>
<text x="705.99" y="487.33" font-size="8.0" fill="#1d1d1b" textLength="14.32" lengthAdjust="spacingAndGlyphs">0,24</text>
<text x="243.50" y="499.13" font-size="8.0" fill="#1d1d1b" textLength="85.99" lengthAdjust="spacingAndGlyphs">аустенитная, закалённая</text>
<text x="451.31" y="499.13" font-size="8.0" fill="#1d1d1b" textLength="12.28" lengthAdjust="spacingAndGlyphs">200</text>
<text x="478.16" y="499.13" font-size="8.0" fill="#1d1d1b" textLength="12.28" lengthAdjust="spacingAndGlyphs">675</text>
<text x="505.54" y="499.13" font-size="8.0" fill="#1d1d1b" textLength="10.22" lengthAdjust="spacingAndGlyphs">M1</text>
<circle cx="531.3" cy="496.14" r="2.2" fill="#151515"/><circle cx="537.8" cy="496.14" r="2.2" fill="#151515"/>
<text x="572.24" y="499.13" font-size="8.0" fill="#1d1d1b" textLength="14.32" lengthAdjust="spacingAndGlyphs">0,12</text>
<text x="599.04" y="499.13" font-size="8.0" fill="#1d1d1b" textLength="14.32" lengthAdjust="spacingAndGlyphs">0,16</text>
<text x="625.84" y="499.13" font-size="8.0" fill="#1d1d1b" textLength="14.32" lengthAdjust="spacingAndGlyphs">0,24</text>
<text x="652.64" y="499.13" font-size="8.0" fill="#1d1d1b" textLength="14.32" lengthAdjust="spacingAndGlyphs">0,12</text>
<text x="679.39" y="499.13" font-size="8.0" fill="#1d1d1b" textLength="14.32" lengthAdjust="spacingAndGlyphs">0,16</text>
<text x="705.99" y="499.13" font-size="8.0" fill="#1d1d1b" textLength="14.32" lengthAdjust="spacingAndGlyphs">0,24</text>
<text x="243.50" y="510.94" font-size="8.0" fill="#1d1d1b" textLength="157.29" lengthAdjust="spacingAndGlyphs">аустенитная, дисперсионно твердеющая (PH)</text>
<text x="451.31" y="510.94" font-size="8.0" fill="#1d1d1b" textLength="12.28" lengthAdjust="spacingAndGlyphs">300</text>
<text x="476.11" y="510.94" font-size="8.0" fill="#1d1d1b" textLength="16.37" lengthAdjust="spacingAndGlyphs">1013</text>
<text x="505.54" y="510.94" font-size="8.0" fill="#1d1d1b" textLength="10.22" lengthAdjust="spacingAndGlyphs">M2</text>
<circle cx="531.3" cy="507.95" r="2.2" fill="#151515"/><circle cx="537.8" cy="507.95" r="2.2" fill="#151515"/>
<text x="572.24" y="510.94" font-size="8.0" fill="#1d1d1b" textLength="14.32" lengthAdjust="spacingAndGlyphs">0,12</text>
<text x="599.04" y="510.94" font-size="8.0" fill="#1d1d1b" textLength="14.32" lengthAdjust="spacingAndGlyphs">0,16</text>
<text x="625.84" y="510.94" font-size="8.0" fill="#1d1d1b" textLength="14.32" lengthAdjust="spacingAndGlyphs">0,24</text>
<text x="652.64" y="510.94" font-size="8.0" fill="#1d1d1b" textLength="14.32" lengthAdjust="spacingAndGlyphs">0,12</text>
<text x="679.39" y="510.94" font-size="8.0" fill="#1d1d1b" textLength="14.32" lengthAdjust="spacingAndGlyphs">0,16</text>
<text x="705.99" y="510.94" font-size="8.0" fill="#1d1d1b" textLength="14.32" lengthAdjust="spacingAndGlyphs">0,24</text>
<text x="243.50" y="522.75" font-size="8.0" fill="#1d1d1b" textLength="122.35" lengthAdjust="spacingAndGlyphs">аустенитно-ферритная, дуплексная</text>
<text x="451.31" y="522.75" font-size="8.0" fill="#1d1d1b" textLength="12.28" lengthAdjust="spacingAndGlyphs">230</text>
<text x="478.16" y="522.75" font-size="8.0" fill="#1d1d1b" textLength="12.28" lengthAdjust="spacingAndGlyphs">778</text>
<text x="505.54" y="522.75" font-size="8.0" fill="#1d1d1b" textLength="10.22" lengthAdjust="spacingAndGlyphs">M3</text>
<circle cx="531.3" cy="519.76" r="2.2" fill="#151515"/><circle cx="537.8" cy="519.76" r="2.2" fill="#151515"/>
<text x="572.24" y="522.75" font-size="8.0" fill="#1d1d1b" textLength="14.32" lengthAdjust="spacingAndGlyphs">0,12</text>
<text x="599.04" y="522.75" font-size="8.0" fill="#1d1d1b" textLength="14.32" lengthAdjust="spacingAndGlyphs">0,16</text>
<text x="625.84" y="522.75" font-size="8.0" fill="#1d1d1b" textLength="14.32" lengthAdjust="spacingAndGlyphs">0,24</text>
<text x="652.64" y="522.75" font-size="8.0" fill="#1d1d1b" textLength="14.32" lengthAdjust="spacingAndGlyphs">0,12</text>
<text x="679.39" y="522.75" font-size="8.0" fill="#1d1d1b" textLength="14.32" lengthAdjust="spacingAndGlyphs">0,16</text>
<text x="705.99" y="522.75" font-size="8.0" fill="#1d1d1b" textLength="14.32" lengthAdjust="spacingAndGlyphs">0,24</text>
<text x="243.50" y="534.56" font-size="8.0" fill="#1d1d1b" textLength="39.28" lengthAdjust="spacingAndGlyphs">ферритный</text>
<text x="451.31" y="534.56" font-size="8.0" fill="#1d1d1b" textLength="12.28" lengthAdjust="spacingAndGlyphs">200</text>
<text x="478.16" y="534.56" font-size="8.0" fill="#1d1d1b" textLength="12.28" lengthAdjust="spacingAndGlyphs">675</text>
<text x="506.15" y="534.56" font-size="8.0" fill="#1d1d1b" textLength="9.00" lengthAdjust="spacingAndGlyphs">K1</text>
<circle cx="531.3" cy="531.57" r="2.2" fill="#151515"/><circle cx="537.8" cy="531.57" r="2.2" fill="#151515"/>
<circle cx="555.8" cy="531.57" r="2.2" fill="#151515"/>
<text x="572.24" y="534.56" font-size="8.0" fill="#1d1d1b" textLength="14.32" lengthAdjust="spacingAndGlyphs">0,18</text>
<text x="599.04" y="534.56" font-size="8.0" fill="#1d1d1b" textLength="14.32" lengthAdjust="spacingAndGlyphs">0,26</text>
<text x="625.84" y="534.56" font-size="8.0" fill="#1d1d1b" textLength="14.32" lengthAdjust="spacingAndGlyphs">0,34</text>
<text x="652.64" y="534.56" font-size="8.0" fill="#1d1d1b" textLength="14.32" lengthAdjust="spacingAndGlyphs">0,18</text>
<text x="679.39" y="534.56" font-size="8.0" fill="#1d1d1b" textLength="14.32" lengthAdjust="spacingAndGlyphs">0,26</text>
<text x="705.99" y="534.56" font-size="8.0" fill="#1d1d1b" textLength="14.32" lengthAdjust="spacingAndGlyphs">0,34</text>
<text x="243.50" y="546.37" font-size="8.0" fill="#1d1d1b" textLength="37.16" lengthAdjust="spacingAndGlyphs">перлитный</text>
<text x="451.31" y="546.37" font-size="8.0" fill="#1d1d1b" textLength="12.28" lengthAdjust="spacingAndGlyphs">260</text>
<text x="478.16" y="546.37" font-size="8.0" fill="#1d1d1b" textLength="12.28" lengthAdjust="spacingAndGlyphs">867</text>
<text x="506.15" y="546.37" font-size="8.0" fill="#1d1d1b" textLength="9.00" lengthAdjust="spacingAndGlyphs">K2</text>
<circle cx="531.3" cy="543.38" r="2.2" fill="#151515"/><circle cx="537.8" cy="543.38" r="2.2" fill="#151515"/>
<circle cx="555.8" cy="543.38" r="2.2" fill="#151515"/>
<text x="572.24" y="546.37" font-size="8.0" fill="#1d1d1b" textLength="14.32" lengthAdjust="spacingAndGlyphs">0,16</text>
<text x="599.04" y="546.37" font-size="8.0" fill="#1d1d1b" textLength="14.32" lengthAdjust="spacingAndGlyphs">0,24</text>
<text x="625.84" y="546.37" font-size="8.0" fill="#1d1d1b" textLength="14.32" lengthAdjust="spacingAndGlyphs">0,30</text>
<text x="652.64" y="546.37" font-size="8.0" fill="#1d1d1b" textLength="14.32" lengthAdjust="spacingAndGlyphs">0,16</text>
<text x="679.39" y="546.37" font-size="8.0" fill="#1d1d1b" textLength="14.32" lengthAdjust="spacingAndGlyphs">0,24</text>
<text x="705.99" y="546.37" font-size="8.0" fill="#1d1d1b" textLength="14.32" lengthAdjust="spacingAndGlyphs">0,30</text>
<text x="243.50" y="558.18" font-size="8.0" fill="#1d1d1b" textLength="102.61" lengthAdjust="spacingAndGlyphs">с низким пределом прочности</text>
<text x="451.31" y="558.18" font-size="8.0" fill="#1d1d1b" textLength="12.28" lengthAdjust="spacingAndGlyphs">180</text>
<text x="478.16" y="558.18" font-size="8.0" fill="#1d1d1b" textLength="12.28" lengthAdjust="spacingAndGlyphs">602</text>
<text x="506.15" y="558.18" font-size="8.0" fill="#1d1d1b" textLength="9.00" lengthAdjust="spacingAndGlyphs">K3</text>
<circle cx="531.3" cy="555.18" r="2.2" fill="#151515"/><circle cx="537.8" cy="555.18" r="2.2" fill="#151515"/>
<circle cx="555.8" cy="555.18" r="2.2" fill="#151515"/>
<text x="572.24" y="558.18" font-size="8.0" fill="#1d1d1b" textLength="14.32" lengthAdjust="spacingAndGlyphs">0,20</text>
<text x="599.04" y="558.18" font-size="8.0" fill="#1d1d1b" textLength="14.32" lengthAdjust="spacingAndGlyphs">0,30</text>
<text x="625.84" y="558.18" font-size="8.0" fill="#1d1d1b" textLength="14.32" lengthAdjust="spacingAndGlyphs">0,40</text>
<text x="652.64" y="558.18" font-size="8.0" fill="#1d1d1b" textLength="14.32" lengthAdjust="spacingAndGlyphs">0,20</text>
<text x="679.39" y="558.18" font-size="8.0" fill="#1d1d1b" textLength="14.32" lengthAdjust="spacingAndGlyphs">0,30</text>
<text x="705.99" y="558.18" font-size="8.0" fill="#1d1d1b" textLength="14.32" lengthAdjust="spacingAndGlyphs">0,40</text>
<text x="243.50" y="569.99" font-size="8.0" fill="#1d1d1b" textLength="157.00" lengthAdjust="spacingAndGlyphs">с высоким пределом прочности/аустенитный</text>
<text x="451.31" y="569.99" font-size="8.0" fill="#1d1d1b" textLength="12.28" lengthAdjust="spacingAndGlyphs">245</text>
<text x="478.16" y="569.99" font-size="8.0" fill="#1d1d1b" textLength="12.28" lengthAdjust="spacingAndGlyphs">825</text>
<text x="506.15" y="569.99" font-size="8.0" fill="#1d1d1b" textLength="9.00" lengthAdjust="spacingAndGlyphs">K4</text>
<circle cx="531.3" cy="566.99" r="2.2" fill="#151515"/><circle cx="537.8" cy="566.99" r="2.2" fill="#151515"/>
<circle cx="555.8" cy="566.99" r="2.2" fill="#151515"/>
<text x="572.24" y="569.99" font-size="8.0" fill="#1d1d1b" textLength="14.32" lengthAdjust="spacingAndGlyphs">0,16</text>
<text x="599.04" y="569.99" font-size="8.0" fill="#1d1d1b" textLength="14.32" lengthAdjust="spacingAndGlyphs">0,24</text>
<text x="625.84" y="569.99" font-size="8.0" fill="#1d1d1b" textLength="14.32" lengthAdjust="spacingAndGlyphs">0,30</text>
<text x="652.64" y="569.99" font-size="8.0" fill="#1d1d1b" textLength="14.32" lengthAdjust="spacingAndGlyphs">0,16</text>
<text x="679.39" y="569.99" font-size="8.0" fill="#1d1d1b" textLength="14.32" lengthAdjust="spacingAndGlyphs">0,24</text>
<text x="705.99" y="569.99" font-size="8.0" fill="#1d1d1b" textLength="14.32" lengthAdjust="spacingAndGlyphs">0,30</text>
<text x="243.50" y="581.80" font-size="8.0" fill="#1d1d1b" textLength="39.28" lengthAdjust="spacingAndGlyphs">ферритный</text>
<text x="451.31" y="581.80" font-size="8.0" fill="#1d1d1b" textLength="12.28" lengthAdjust="spacingAndGlyphs">155</text>
<text x="478.16" y="581.80" font-size="8.0" fill="#1d1d1b" textLength="12.28" lengthAdjust="spacingAndGlyphs">518</text>
<text x="506.15" y="581.80" font-size="8.0" fill="#1d1d1b" textLength="9.00" lengthAdjust="spacingAndGlyphs">K5</text>
<circle cx="531.3" cy="578.80" r="2.2" fill="#151515"/><circle cx="537.8" cy="578.80" r="2.2" fill="#151515"/>
<circle cx="555.8" cy="578.80" r="2.2" fill="#151515"/>
<text x="572.24" y="581.80" font-size="8.0" fill="#1d1d1b" textLength="14.32" lengthAdjust="spacingAndGlyphs">0,20</text>
<text x="599.04" y="581.80" font-size="8.0" fill="#1d1d1b" textLength="14.32" lengthAdjust="spacingAndGlyphs">0,30</text>
<text x="625.84" y="581.80" font-size="8.0" fill="#1d1d1b" textLength="14.32" lengthAdjust="spacingAndGlyphs">0,40</text>
<text x="652.64" y="581.80" font-size="8.0" fill="#1d1d1b" textLength="14.32" lengthAdjust="spacingAndGlyphs">0,20</text>
<text x="679.39" y="581.80" font-size="8.0" fill="#1d1d1b" textLength="14.32" lengthAdjust="spacingAndGlyphs">0,30</text>
<text x="705.99" y="581.80" font-size="8.0" fill="#1d1d1b" textLength="14.32" lengthAdjust="spacingAndGlyphs">0,40</text>
<text x="243.50" y="593.61" font-size="8.0" fill="#1d1d1b" textLength="37.16" lengthAdjust="spacingAndGlyphs">перлитный</text>
<text x="451.31" y="593.61" font-size="8.0" fill="#1d1d1b" textLength="12.28" lengthAdjust="spacingAndGlyphs">265</text>
<text x="478.16" y="593.61" font-size="8.0" fill="#1d1d1b" textLength="12.28" lengthAdjust="spacingAndGlyphs">885</text>
<text x="506.15" y="593.61" font-size="8.0" fill="#1d1d1b" textLength="9.00" lengthAdjust="spacingAndGlyphs">K6</text>
<circle cx="531.3" cy="590.61" r="2.2" fill="#151515"/><circle cx="537.8" cy="590.61" r="2.2" fill="#151515"/>
<text x="572.24" y="593.61" font-size="8.0" fill="#1d1d1b" textLength="14.32" lengthAdjust="spacingAndGlyphs">0,16</text>
<text x="599.04" y="593.61" font-size="8.0" fill="#1d1d1b" textLength="14.32" lengthAdjust="spacingAndGlyphs">0,24</text>
<text x="625.84" y="593.61" font-size="8.0" fill="#1d1d1b" textLength="14.32" lengthAdjust="spacingAndGlyphs">0,30</text>
<text x="652.64" y="593.61" font-size="8.0" fill="#1d1d1b" textLength="14.32" lengthAdjust="spacingAndGlyphs">0,16</text>
<text x="679.39" y="593.61" font-size="8.0" fill="#1d1d1b" textLength="14.32" lengthAdjust="spacingAndGlyphs">0,24</text>
<text x="705.99" y="593.61" font-size="8.0" fill="#1d1d1b" textLength="14.32" lengthAdjust="spacingAndGlyphs">0,30</text>
<text x="451.31" y="605.42" font-size="8.0" fill="#1d1d1b" textLength="12.28" lengthAdjust="spacingAndGlyphs">200</text>
<text x="478.16" y="605.42" font-size="8.0" fill="#1d1d1b" textLength="12.28" lengthAdjust="spacingAndGlyphs">675</text>
<text x="506.15" y="605.42" font-size="8.0" fill="#1d1d1b" textLength="9.00" lengthAdjust="spacingAndGlyphs">K7</text>
<circle cx="531.3" cy="602.42" r="2.2" fill="#151515"/><circle cx="537.8" cy="602.42" r="2.2" fill="#151515"/>
<circle cx="555.8" cy="602.42" r="2.2" fill="#151515"/>
<text x="572.24" y="605.42" font-size="8.0" fill="#1d1d1b" textLength="14.32" lengthAdjust="spacingAndGlyphs">0,18</text>
<text x="599.04" y="605.42" font-size="8.0" fill="#1d1d1b" textLength="14.32" lengthAdjust="spacingAndGlyphs">0,26</text>
<text x="625.84" y="605.42" font-size="8.0" fill="#1d1d1b" textLength="14.32" lengthAdjust="spacingAndGlyphs">0,34</text>
<text x="652.64" y="605.42" font-size="8.0" fill="#1d1d1b" textLength="14.32" lengthAdjust="spacingAndGlyphs">0,18</text>
<text x="679.39" y="605.42" font-size="8.0" fill="#1d1d1b" textLength="14.32" lengthAdjust="spacingAndGlyphs">0,26</text>
<text x="705.99" y="605.42" font-size="8.0" fill="#1d1d1b" textLength="14.32" lengthAdjust="spacingAndGlyphs">0,34</text>
<text x="243.50" y="617.22" font-size="8.0" fill="#1d1d1b" textLength="143.69" lengthAdjust="spacingAndGlyphs">не упрочняемые термической обработкой</text>
<text x="453.36" y="617.22" font-size="8.0" fill="#1d1d1b" textLength="8.19" lengthAdjust="spacingAndGlyphs">30</text>
<text x="482.25" y="617.22" font-size="8.0" fill="#1d1d1b" textLength="4.09" lengthAdjust="spacingAndGlyphs">–</text>
<text x="505.95" y="617.22" font-size="8.0" fill="#1d1d1b" textLength="9.41" lengthAdjust="spacingAndGlyphs">N1</text>
<circle cx="531.3" cy="614.23" r="2.2" fill="#151515"/><circle cx="537.8" cy="614.23" r="2.2" fill="#151515"/>
<text x="243.50" y="629.03" font-size="8.0" fill="#1d1d1b" textLength="182.77" lengthAdjust="spacingAndGlyphs">упрочняемые термической обработкой, упрочнённые</text>
<text x="451.31" y="629.03" font-size="8.0" fill="#1d1d1b" textLength="12.28" lengthAdjust="spacingAndGlyphs">100</text>
<text x="478.16" y="629.03" font-size="8.0" fill="#1d1d1b" textLength="12.28" lengthAdjust="spacingAndGlyphs">343</text>
<text x="505.95" y="629.03" font-size="8.0" fill="#1d1d1b" textLength="9.41" lengthAdjust="spacingAndGlyphs">N2</text>
<circle cx="531.3" cy="626.04" r="2.2" fill="#151515"/><circle cx="537.8" cy="626.04" r="2.2" fill="#151515"/>
<text x="243.50" y="640.84" font-size="8.0" fill="#1d1d1b" textLength="179.22" lengthAdjust="spacingAndGlyphs">≤ 12 % Si, не упрочняемые термической обработкой</text>
<text x="453.36" y="640.84" font-size="8.0" fill="#1d1d1b" textLength="8.19" lengthAdjust="spacingAndGlyphs">75</text>
<text x="478.16" y="640.84" font-size="8.0" fill="#1d1d1b" textLength="12.28" lengthAdjust="spacingAndGlyphs">260</text>
<text x="505.95" y="640.84" font-size="8.0" fill="#1d1d1b" textLength="9.41" lengthAdjust="spacingAndGlyphs">N3</text>
<circle cx="531.3" cy="637.85" r="2.2" fill="#151515"/><circle cx="537.8" cy="637.85" r="2.2" fill="#151515"/>
<circle cx="555.8" cy="637.85" r="2.2" fill="#151515"/>
<text x="243.50" y="652.65" font-size="8.0" fill="#1d1d1b" textLength="130.93" lengthAdjust="spacingAndGlyphs">≤ 12 % Si, упрочняемые, упрочнённые</text>
<text x="453.36" y="652.65" font-size="8.0" fill="#1d1d1b" textLength="8.19" lengthAdjust="spacingAndGlyphs">90</text>
<text x="478.16" y="652.65" font-size="8.0" fill="#1d1d1b" textLength="12.28" lengthAdjust="spacingAndGlyphs">314</text>
<text x="505.95" y="652.65" font-size="8.0" fill="#1d1d1b" textLength="9.41" lengthAdjust="spacingAndGlyphs">N4</text>
<circle cx="531.3" cy="649.66" r="2.2" fill="#151515"/><circle cx="537.8" cy="649.66" r="2.2" fill="#151515"/>
<circle cx="555.8" cy="649.66" r="2.2" fill="#151515"/>
<text x="243.50" y="664.46" font-size="8.0" fill="#1d1d1b" textLength="179.48" lengthAdjust="spacingAndGlyphs">&gt; 12 % Si, не упрочняемые термической обработкой</text>
<text x="451.31" y="664.46" font-size="8.0" fill="#1d1d1b" textLength="12.28" lengthAdjust="spacingAndGlyphs">130</text>
<text x="478.16" y="664.46" font-size="8.0" fill="#1d1d1b" textLength="12.28" lengthAdjust="spacingAndGlyphs">447</text>
<text x="505.95" y="664.46" font-size="8.0" fill="#1d1d1b" textLength="9.41" lengthAdjust="spacingAndGlyphs">N5</text>
<circle cx="531.3" cy="661.47" r="2.2" fill="#151515"/><circle cx="537.8" cy="661.47" r="2.2" fill="#151515"/>
<circle cx="555.8" cy="661.47" r="2.2" fill="#151515"/>
<text x="453.36" y="676.27" font-size="8.0" fill="#1d1d1b" textLength="8.19" lengthAdjust="spacingAndGlyphs">70</text>
<text x="478.16" y="676.27" font-size="8.0" fill="#1d1d1b" textLength="12.28" lengthAdjust="spacingAndGlyphs">250</text>
<text x="505.95" y="676.27" font-size="8.0" fill="#1d1d1b" textLength="9.41" lengthAdjust="spacingAndGlyphs">N6</text>
<circle cx="531.3" cy="673.27" r="2.2" fill="#151515"/><circle cx="537.8" cy="673.27" r="2.2" fill="#151515"/>
<circle cx="555.8" cy="673.27" r="2.2" fill="#151515"/>
<text x="243.50" y="688.08" font-size="8.0" fill="#1d1d1b" textLength="144.30" lengthAdjust="spacingAndGlyphs">нелегированная, электролитическая медь</text>
<text x="451.31" y="688.08" font-size="8.0" fill="#1d1d1b" textLength="12.28" lengthAdjust="spacingAndGlyphs">100</text>
<text x="478.16" y="688.08" font-size="8.0" fill="#1d1d1b" textLength="12.28" lengthAdjust="spacingAndGlyphs">343</text>
<text x="505.95" y="688.08" font-size="8.0" fill="#1d1d1b" textLength="9.41" lengthAdjust="spacingAndGlyphs">N7</text>
<circle cx="531.3" cy="685.08" r="2.2" fill="#151515"/><circle cx="537.8" cy="685.08" r="2.2" fill="#151515"/>
<text x="572.24" y="688.08" font-size="8.0" fill="#1d1d1b" textLength="14.32" lengthAdjust="spacingAndGlyphs">0,16</text>
<text x="599.04" y="688.08" font-size="8.0" fill="#1d1d1b" textLength="14.32" lengthAdjust="spacingAndGlyphs">0,24</text>
<text x="625.84" y="688.08" font-size="8.0" fill="#1d1d1b" textLength="14.32" lengthAdjust="spacingAndGlyphs">0,40</text>
<text x="652.64" y="688.08" font-size="8.0" fill="#1d1d1b" textLength="14.32" lengthAdjust="spacingAndGlyphs">0,16</text>
<text x="679.39" y="688.08" font-size="8.0" fill="#1d1d1b" textLength="14.32" lengthAdjust="spacingAndGlyphs">0,24</text>
<text x="705.99" y="688.08" font-size="8.0" fill="#1d1d1b" textLength="14.32" lengthAdjust="spacingAndGlyphs">0,40</text>
<text x="243.50" y="699.89" font-size="8.0" fill="#1d1d1b" textLength="107.91" lengthAdjust="spacingAndGlyphs">латунь, бронза, красная латунь</text>
<text x="453.36" y="699.89" font-size="8.0" fill="#1d1d1b" textLength="8.19" lengthAdjust="spacingAndGlyphs">90</text>
<text x="478.16" y="699.89" font-size="8.0" fill="#1d1d1b" textLength="12.28" lengthAdjust="spacingAndGlyphs">314</text>
<text x="505.95" y="699.89" font-size="8.0" fill="#1d1d1b" textLength="9.41" lengthAdjust="spacingAndGlyphs">N8</text>
<circle cx="531.3" cy="696.89" r="2.2" fill="#151515"/><circle cx="537.8" cy="696.89" r="2.2" fill="#151515"/>
<circle cx="555.8" cy="696.89" r="2.2" fill="#151515"/>
<text x="572.24" y="699.89" font-size="8.0" fill="#1d1d1b" textLength="14.32" lengthAdjust="spacingAndGlyphs">0,16</text>
<text x="599.04" y="699.89" font-size="8.0" fill="#1d1d1b" textLength="14.32" lengthAdjust="spacingAndGlyphs">0,24</text>
<text x="625.84" y="699.89" font-size="8.0" fill="#1d1d1b" textLength="14.32" lengthAdjust="spacingAndGlyphs">0,40</text>
<text x="652.64" y="699.89" font-size="8.0" fill="#1d1d1b" textLength="14.32" lengthAdjust="spacingAndGlyphs">0,16</text>
<text x="679.39" y="699.89" font-size="8.0" fill="#1d1d1b" textLength="14.32" lengthAdjust="spacingAndGlyphs">0,24</text>
<text x="705.99" y="699.89" font-size="8.0" fill="#1d1d1b" textLength="14.32" lengthAdjust="spacingAndGlyphs">0,40</text>
<text x="243.50" y="711.70" font-size="8.0" fill="#1d1d1b" textLength="157.42" lengthAdjust="spacingAndGlyphs">медные сплавы, дающие сегментную стружку</text>
<text x="451.58" y="711.70" font-size="8.0" fill="#1d1d1b" textLength="11.73" lengthAdjust="spacingAndGlyphs">110</text>
<text x="478.16" y="711.70" font-size="8.0" fill="#1d1d1b" textLength="12.28" lengthAdjust="spacingAndGlyphs">382</text>
<text x="505.95" y="711.70" font-size="8.0" fill="#1d1d1b" textLength="9.41" lengthAdjust="spacingAndGlyphs">N9</text>
<circle cx="531.3" cy="708.70" r="2.2" fill="#151515"/><circle cx="537.8" cy="708.70" r="2.2" fill="#151515"/>
<circle cx="555.8" cy="708.70" r="2.2" fill="#151515"/>
<text x="572.24" y="711.70" font-size="8.0" fill="#1d1d1b" textLength="14.32" lengthAdjust="spacingAndGlyphs">0,16</text>
<text x="599.04" y="711.70" font-size="8.0" fill="#1d1d1b" textLength="14.32" lengthAdjust="spacingAndGlyphs">0,24</text>
<text x="625.84" y="711.70" font-size="8.0" fill="#1d1d1b" textLength="14.32" lengthAdjust="spacingAndGlyphs">0,40</text>
<text x="652.64" y="711.70" font-size="8.0" fill="#1d1d1b" textLength="14.32" lengthAdjust="spacingAndGlyphs">0,16</text>
<text x="679.39" y="711.70" font-size="8.0" fill="#1d1d1b" textLength="14.32" lengthAdjust="spacingAndGlyphs">0,24</text>
<text x="705.99" y="711.70" font-size="8.0" fill="#1d1d1b" textLength="14.32" lengthAdjust="spacingAndGlyphs">0,40</text>
<text x="243.50" y="723.51" font-size="8.0" fill="#1d1d1b" textLength="112.53" lengthAdjust="spacingAndGlyphs">высокопрочные сплавы Cu-Al-Fe</text>
<text x="451.31" y="723.51" font-size="8.0" fill="#1d1d1b" textLength="12.28" lengthAdjust="spacingAndGlyphs">300</text>
<text x="476.11" y="723.51" font-size="8.0" fill="#1d1d1b" textLength="16.37" lengthAdjust="spacingAndGlyphs">1013</text>
<text x="503.90" y="723.51" font-size="8.0" fill="#1d1d1b" textLength="13.50" lengthAdjust="spacingAndGlyphs">N10</text>
<circle cx="531.3" cy="720.51" r="2.2" fill="#151515"/><circle cx="537.8" cy="720.51" r="2.2" fill="#151515"/>
<text x="243.50" y="740.92" font-size="8.0" fill="#1d1d1b" textLength="44.69" lengthAdjust="spacingAndGlyphs">на основе Fe</text>
<text x="376.00" y="735.32" font-size="8.0" fill="#1d1d1b" textLength="42.68" lengthAdjust="spacingAndGlyphs">отожжённые</text>
<text x="451.31" y="735.32" font-size="8.0" fill="#1d1d1b" textLength="12.28" lengthAdjust="spacingAndGlyphs">200</text>
<text x="478.16" y="735.32" font-size="8.0" fill="#1d1d1b" textLength="12.28" lengthAdjust="spacingAndGlyphs">675</text>
<text x="506.15" y="735.32" font-size="8.0" fill="#1d1d1b" textLength="9.00" lengthAdjust="spacingAndGlyphs">S1</text>
<circle cx="531.3" cy="732.32" r="2.2" fill="#151515"/><circle cx="537.8" cy="732.32" r="2.2" fill="#151515"/>
<text x="572.24" y="735.32" font-size="8.0" fill="#1d1d1b" textLength="14.32" lengthAdjust="spacingAndGlyphs">0,10</text>
<text x="599.04" y="735.32" font-size="8.0" fill="#1d1d1b" textLength="14.32" lengthAdjust="spacingAndGlyphs">0,15</text>
<text x="625.84" y="735.32" font-size="8.0" fill="#1d1d1b" textLength="14.32" lengthAdjust="spacingAndGlyphs">0,20</text>
<text x="652.64" y="735.32" font-size="8.0" fill="#1d1d1b" textLength="14.32" lengthAdjust="spacingAndGlyphs">0,10</text>
<text x="679.39" y="735.32" font-size="8.0" fill="#1d1d1b" textLength="14.32" lengthAdjust="spacingAndGlyphs">0,15</text>
<text x="705.99" y="735.32" font-size="8.0" fill="#1d1d1b" textLength="14.32" lengthAdjust="spacingAndGlyphs">0,20</text>
<text x="376.00" y="747.12" font-size="8.0" fill="#1d1d1b" textLength="45.20" lengthAdjust="spacingAndGlyphs">упрочнённые</text>
<text x="451.31" y="747.12" font-size="8.0" fill="#1d1d1b" textLength="12.28" lengthAdjust="spacingAndGlyphs">280</text>
<text x="478.16" y="747.12" font-size="8.0" fill="#1d1d1b" textLength="12.28" lengthAdjust="spacingAndGlyphs">943</text>
<text x="506.15" y="747.12" font-size="8.0" fill="#1d1d1b" textLength="9.00" lengthAdjust="spacingAndGlyphs">S2</text>
<circle cx="531.3" cy="744.13" r="2.2" fill="#151515"/><circle cx="537.8" cy="744.13" r="2.2" fill="#151515"/>
<text x="572.24" y="747.12" font-size="8.0" fill="#1d1d1b" textLength="14.32" lengthAdjust="spacingAndGlyphs">0,10</text>
<text x="599.04" y="747.12" font-size="8.0" fill="#1d1d1b" textLength="14.32" lengthAdjust="spacingAndGlyphs">0,15</text>
<text x="625.84" y="747.12" font-size="8.0" fill="#1d1d1b" textLength="14.32" lengthAdjust="spacingAndGlyphs">0,20</text>
<text x="652.64" y="747.12" font-size="8.0" fill="#1d1d1b" textLength="14.32" lengthAdjust="spacingAndGlyphs">0,10</text>
<text x="679.39" y="747.12" font-size="8.0" fill="#1d1d1b" textLength="14.32" lengthAdjust="spacingAndGlyphs">0,15</text>
<text x="705.99" y="747.12" font-size="8.0" fill="#1d1d1b" textLength="14.32" lengthAdjust="spacingAndGlyphs">0,20</text>
<text x="243.50" y="770.45" font-size="8.0" fill="#1d1d1b" textLength="69.06" lengthAdjust="spacingAndGlyphs">на основе Ni или Co</text>
<text x="376.00" y="758.93" font-size="8.0" fill="#1d1d1b" textLength="42.68" lengthAdjust="spacingAndGlyphs">отожжённые</text>
<text x="451.31" y="758.93" font-size="8.0" fill="#1d1d1b" textLength="12.28" lengthAdjust="spacingAndGlyphs">250</text>
<text x="478.16" y="758.93" font-size="8.0" fill="#1d1d1b" textLength="12.28" lengthAdjust="spacingAndGlyphs">839</text>
<text x="506.15" y="758.93" font-size="8.0" fill="#1d1d1b" textLength="9.00" lengthAdjust="spacingAndGlyphs">S3</text>
<circle cx="531.3" cy="755.94" r="2.2" fill="#151515"/><circle cx="537.8" cy="755.94" r="2.2" fill="#151515"/>
<text x="572.24" y="758.93" font-size="8.0" fill="#1d1d1b" textLength="14.32" lengthAdjust="spacingAndGlyphs">0,10</text>
<text x="599.04" y="758.93" font-size="8.0" fill="#1d1d1b" textLength="14.32" lengthAdjust="spacingAndGlyphs">0,15</text>
<text x="625.84" y="758.93" font-size="8.0" fill="#1d1d1b" textLength="14.32" lengthAdjust="spacingAndGlyphs">0,20</text>
<text x="652.64" y="758.93" font-size="8.0" fill="#1d1d1b" textLength="14.32" lengthAdjust="spacingAndGlyphs">0,10</text>
<text x="679.39" y="758.93" font-size="8.0" fill="#1d1d1b" textLength="14.32" lengthAdjust="spacingAndGlyphs">0,15</text>
<text x="705.99" y="758.93" font-size="8.0" fill="#1d1d1b" textLength="14.32" lengthAdjust="spacingAndGlyphs">0,20</text>
<text x="376.00" y="770.74" font-size="8.0" fill="#1d1d1b" textLength="45.20" lengthAdjust="spacingAndGlyphs">упрочнённые</text>
<text x="451.31" y="770.74" font-size="8.0" fill="#1d1d1b" textLength="12.28" lengthAdjust="spacingAndGlyphs">350</text>
<text x="476.39" y="770.74" font-size="8.0" fill="#1d1d1b" textLength="15.83" lengthAdjust="spacingAndGlyphs">1177</text>
<text x="506.15" y="770.74" font-size="8.0" fill="#1d1d1b" textLength="9.00" lengthAdjust="spacingAndGlyphs">S4</text>
<circle cx="531.3" cy="767.75" r="2.2" fill="#151515"/><circle cx="537.8" cy="767.75" r="2.2" fill="#151515"/>
<text x="572.24" y="770.74" font-size="8.0" fill="#1d1d1b" textLength="14.32" lengthAdjust="spacingAndGlyphs">0,10</text>
<text x="599.04" y="770.74" font-size="8.0" fill="#1d1d1b" textLength="14.32" lengthAdjust="spacingAndGlyphs">0,15</text>
<text x="625.84" y="770.74" font-size="8.0" fill="#1d1d1b" textLength="14.32" lengthAdjust="spacingAndGlyphs">0,20</text>
<text x="652.64" y="770.74" font-size="8.0" fill="#1d1d1b" textLength="14.32" lengthAdjust="spacingAndGlyphs">0,10</text>
<text x="679.39" y="770.74" font-size="8.0" fill="#1d1d1b" textLength="14.32" lengthAdjust="spacingAndGlyphs">0,15</text>
<text x="705.99" y="770.74" font-size="8.0" fill="#1d1d1b" textLength="14.32" lengthAdjust="spacingAndGlyphs">0,20</text>
<text x="376.00" y="782.55" font-size="8.0" fill="#1d1d1b" textLength="19.70" lengthAdjust="spacingAndGlyphs">литьё</text>
<text x="451.31" y="782.55" font-size="8.0" fill="#1d1d1b" textLength="12.28" lengthAdjust="spacingAndGlyphs">320</text>
<text x="476.11" y="782.55" font-size="8.0" fill="#1d1d1b" textLength="16.37" lengthAdjust="spacingAndGlyphs">1076</text>
<text x="506.15" y="782.55" font-size="8.0" fill="#1d1d1b" textLength="9.00" lengthAdjust="spacingAndGlyphs">S5</text>
<circle cx="531.3" cy="779.56" r="2.2" fill="#151515"/><circle cx="537.8" cy="779.56" r="2.2" fill="#151515"/>
<text x="572.24" y="782.55" font-size="8.0" fill="#1d1d1b" textLength="14.32" lengthAdjust="spacingAndGlyphs">0,10</text>
<text x="599.04" y="782.55" font-size="8.0" fill="#1d1d1b" textLength="14.32" lengthAdjust="spacingAndGlyphs">0,15</text>
<text x="625.84" y="782.55" font-size="8.0" fill="#1d1d1b" textLength="14.32" lengthAdjust="spacingAndGlyphs">0,20</text>
<text x="652.64" y="782.55" font-size="8.0" fill="#1d1d1b" textLength="14.32" lengthAdjust="spacingAndGlyphs">0,10</text>
<text x="679.39" y="782.55" font-size="8.0" fill="#1d1d1b" textLength="14.32" lengthAdjust="spacingAndGlyphs">0,15</text>
<text x="705.99" y="782.55" font-size="8.0" fill="#1d1d1b" textLength="14.32" lengthAdjust="spacingAndGlyphs">0,20</text>
<text x="243.50" y="794.36" font-size="8.0" fill="#1d1d1b" textLength="45.37" lengthAdjust="spacingAndGlyphs">чистый титан</text>
<text x="451.31" y="794.36" font-size="8.0" fill="#1d1d1b" textLength="12.28" lengthAdjust="spacingAndGlyphs">200</text>
<text x="478.16" y="794.36" font-size="8.0" fill="#1d1d1b" textLength="12.28" lengthAdjust="spacingAndGlyphs">675</text>
<text x="506.15" y="794.36" font-size="8.0" fill="#1d1d1b" textLength="9.00" lengthAdjust="spacingAndGlyphs">S6</text>
<text x="243.50" y="806.17" font-size="8.0" fill="#1d1d1b" textLength="96.13" lengthAdjust="spacingAndGlyphs">α- и β-сплавы, упрочнённые</text>
<text x="451.31" y="806.17" font-size="8.0" fill="#1d1d1b" textLength="12.28" lengthAdjust="spacingAndGlyphs">375</text>
<text x="476.11" y="806.17" font-size="8.0" fill="#1d1d1b" textLength="16.37" lengthAdjust="spacingAndGlyphs">1262</text>
<text x="506.15" y="806.17" font-size="8.0" fill="#1d1d1b" textLength="9.00" lengthAdjust="spacingAndGlyphs">S7</text>
<circle cx="531.3" cy="803.17" r="2.2" fill="#151515"/><circle cx="537.8" cy="803.17" r="2.2" fill="#151515"/>
<text x="572.24" y="806.17" font-size="8.0" fill="#1d1d1b" textLength="14.32" lengthAdjust="spacingAndGlyphs">0,14</text>
<text x="599.04" y="806.17" font-size="8.0" fill="#1d1d1b" textLength="14.32" lengthAdjust="spacingAndGlyphs">0,16</text>
<text x="625.84" y="806.17" font-size="8.0" fill="#1d1d1b" textLength="14.32" lengthAdjust="spacingAndGlyphs">0,24</text>
<text x="652.64" y="806.17" font-size="8.0" fill="#1d1d1b" textLength="14.32" lengthAdjust="spacingAndGlyphs">0,14</text>
<text x="679.39" y="806.17" font-size="8.0" fill="#1d1d1b" textLength="14.32" lengthAdjust="spacingAndGlyphs">0,16</text>
<text x="705.99" y="806.17" font-size="8.0" fill="#1d1d1b" textLength="14.32" lengthAdjust="spacingAndGlyphs">0,24</text>
<text x="243.50" y="817.98" font-size="8.0" fill="#1d1d1b" textLength="31.94" lengthAdjust="spacingAndGlyphs">β-сплавы</text>
<text x="451.31" y="817.98" font-size="8.0" fill="#1d1d1b" textLength="12.28" lengthAdjust="spacingAndGlyphs">410</text>
<text x="476.11" y="817.98" font-size="8.0" fill="#1d1d1b" textLength="16.37" lengthAdjust="spacingAndGlyphs">1396</text>
<text x="506.15" y="817.98" font-size="8.0" fill="#1d1d1b" textLength="9.00" lengthAdjust="spacingAndGlyphs">S8</text>
<circle cx="531.3" cy="814.98" r="2.2" fill="#151515"/><circle cx="537.8" cy="814.98" r="2.2" fill="#151515"/>
<text x="572.24" y="817.98" font-size="8.0" fill="#1d1d1b" textLength="14.32" lengthAdjust="spacingAndGlyphs">0,12</text>
<text x="599.04" y="817.98" font-size="8.0" fill="#1d1d1b" textLength="14.32" lengthAdjust="spacingAndGlyphs">0,14</text>
<text x="625.84" y="817.98" font-size="8.0" fill="#1d1d1b" textLength="14.32" lengthAdjust="spacingAndGlyphs">0,22</text>
<text x="652.64" y="817.98" font-size="8.0" fill="#1d1d1b" textLength="14.32" lengthAdjust="spacingAndGlyphs">0,12</text>
<text x="679.39" y="817.98" font-size="8.0" fill="#1d1d1b" textLength="14.32" lengthAdjust="spacingAndGlyphs">0,14</text>
<text x="705.99" y="817.98" font-size="8.0" fill="#1d1d1b" textLength="14.32" lengthAdjust="spacingAndGlyphs">0,22</text>
<text x="451.31" y="829.79" font-size="8.0" fill="#1d1d1b" textLength="12.28" lengthAdjust="spacingAndGlyphs">300</text>
<text x="476.11" y="829.79" font-size="8.0" fill="#1d1d1b" textLength="16.37" lengthAdjust="spacingAndGlyphs">1013</text>
<text x="506.15" y="829.79" font-size="8.0" fill="#1d1d1b" textLength="9.00" lengthAdjust="spacingAndGlyphs">S9</text>
<text x="451.31" y="841.60" font-size="8.0" fill="#1d1d1b" textLength="12.28" lengthAdjust="spacingAndGlyphs">300</text>
<text x="476.11" y="841.60" font-size="8.0" fill="#1d1d1b" textLength="16.37" lengthAdjust="spacingAndGlyphs">1013</text>
<text x="504.10" y="841.60" font-size="8.0" fill="#1d1d1b" textLength="13.10" lengthAdjust="spacingAndGlyphs">S10</text>
<text x="243.50" y="853.40" font-size="8.0" fill="#1d1d1b" textLength="88.98" lengthAdjust="spacingAndGlyphs">закалённая и отпущенная</text>
<text x="446.00" y="853.40" font-size="8.0" fill="#1d1d1b" textLength="23.50" lengthAdjust="spacingAndGlyphs">50 HRC</text>
<text x="482.25" y="853.40" font-size="8.0" fill="#1d1d1b" textLength="4.09" lengthAdjust="spacingAndGlyphs">–</text>
<text x="505.95" y="853.40" font-size="8.0" fill="#1d1d1b" textLength="9.41" lengthAdjust="spacingAndGlyphs">H1</text>
<text x="243.50" y="865.21" font-size="8.0" fill="#1d1d1b" textLength="88.98" lengthAdjust="spacingAndGlyphs">закалённая и отпущенная</text>
<text x="446.00" y="865.21" font-size="8.0" fill="#1d1d1b" textLength="23.50" lengthAdjust="spacingAndGlyphs">55 HRC</text>
<text x="482.25" y="865.21" font-size="8.0" fill="#1d1d1b" textLength="4.09" lengthAdjust="spacingAndGlyphs">–</text>
<text x="505.95" y="865.21" font-size="8.0" fill="#1d1d1b" textLength="9.41" lengthAdjust="spacingAndGlyphs">H2</text>
<text x="243.50" y="877.02" font-size="8.0" fill="#1d1d1b" textLength="88.98" lengthAdjust="spacingAndGlyphs">закалённая и отпущенная</text>
<text x="446.00" y="877.02" font-size="8.0" fill="#1d1d1b" textLength="23.50" lengthAdjust="spacingAndGlyphs">60 HRC</text>
<text x="482.25" y="877.02" font-size="8.0" fill="#1d1d1b" textLength="4.09" lengthAdjust="spacingAndGlyphs">–</text>
<text x="505.95" y="877.02" font-size="8.0" fill="#1d1d1b" textLength="9.41" lengthAdjust="spacingAndGlyphs">H3</text>
<text x="243.50" y="888.83" font-size="8.0" fill="#1d1d1b" textLength="91.63" lengthAdjust="spacingAndGlyphs">закалённый и отпущенный</text>
<text x="446.00" y="888.83" font-size="8.0" fill="#1d1d1b" textLength="23.50" lengthAdjust="spacingAndGlyphs">55 HRC</text>
<text x="482.25" y="888.83" font-size="8.0" fill="#1d1d1b" textLength="4.09" lengthAdjust="spacingAndGlyphs">–</text>
<text x="505.95" y="888.83" font-size="8.0" fill="#1d1d1b" textLength="9.41" lengthAdjust="spacingAndGlyphs">H4</text>
<text x="243.50" y="900.64" font-size="8.0" fill="#1d1d1b" textLength="93.45" lengthAdjust="spacingAndGlyphs">без абразивных включений</text>
<text x="505.74" y="900.64" font-size="8.0" fill="#1d1d1b" textLength="9.82" lengthAdjust="spacingAndGlyphs">O1</text>
<text x="243.50" y="912.45" font-size="8.0" fill="#1d1d1b" textLength="93.45" lengthAdjust="spacingAndGlyphs">без абразивных включений</text>
<text x="505.74" y="912.45" font-size="8.0" fill="#1d1d1b" textLength="9.82" lengthAdjust="spacingAndGlyphs">O2</text>
<text x="243.50" y="924.26" font-size="8.0" fill="#1d1d1b" textLength="53.70" lengthAdjust="spacingAndGlyphs">стеклопластики</text>
<text x="505.74" y="924.26" font-size="8.0" fill="#1d1d1b" textLength="9.82" lengthAdjust="spacingAndGlyphs">O3</text>
<text x="243.50" y="936.07" font-size="8.0" fill="#1d1d1b" textLength="45.46" lengthAdjust="spacingAndGlyphs">углепластики</text>
<text x="505.74" y="936.07" font-size="8.0" fill="#1d1d1b" textLength="9.82" lengthAdjust="spacingAndGlyphs">O4</text>
<text x="243.50" y="947.88" font-size="8.0" fill="#1d1d1b" textLength="60.71" lengthAdjust="spacingAndGlyphs">арамидопластики</text>
<text x="505.74" y="947.88" font-size="8.0" fill="#1d1d1b" textLength="9.82" lengthAdjust="spacingAndGlyphs">O5</text>
<text x="446.00" y="959.69" font-size="6.6" fill="#1d1d1b" textLength="24.00" lengthAdjust="spacingAndGlyphs">80 по Шору</text>
<text x="505.74" y="959.69" font-size="8.0" fill="#1d1d1b" textLength="9.82" lengthAdjust="spacingAndGlyphs">O6</text>
<text x="228.50" y="248.00" font-size="7.5" font-weight="bold" fill="#222" textLength="66.70" lengthAdjust="spacingAndGlyphs">Основные группы</text>
<text x="239.75" y="257.30" font-size="7.5" font-weight="bold" fill="#222" textLength="44.00" lengthAdjust="spacingAndGlyphs">материалов</text>
<text x="72.90" y="306.90" font-size="7.6" font-weight="bold" fill="#222" textLength="73.20" lengthAdjust="spacingAndGlyphs" transform="rotate(-90 72.90 306.90)">Группа материалов</text>
<text x="461.60" y="306.80" font-size="7.5" fill="#333" textLength="93.40" lengthAdjust="spacingAndGlyphs" transform="rotate(-90 461.60 306.80)">Твёрдость по Бринеллю HB</text>
<text x="481.60" y="306.80" font-size="7.5" fill="#333" textLength="70.50" lengthAdjust="spacingAndGlyphs" transform="rotate(-90 481.60 306.80)">Предел прочности R</text>
<text x="485.00" y="236.00" font-size="4.8" fill="#333" textLength="4.00" lengthAdjust="spacingAndGlyphs" transform="rotate(-90 485.00 236.00)">m</text>
<text x="491.30" y="306.80" font-size="7.5" fill="#333" textLength="17.60" lengthAdjust="spacingAndGlyphs" transform="rotate(-90 491.30 306.80)">Н/мм</text>
<text x="489.40" y="288.90" font-size="4.6" fill="#333" textLength="2.40" lengthAdjust="spacingAndGlyphs" transform="rotate(-90 489.40 288.90)">2</text>
<text x="513.20" y="306.80" font-size="7.5" fill="#333" textLength="90.50" lengthAdjust="spacingAndGlyphs" transform="rotate(-90 513.20 306.80)">Группа обрабатываемости</text>
<text x="511.00" y="214.00" font-size="4.6" fill="#333" textLength="2.30" lengthAdjust="spacingAndGlyphs" transform="rotate(-90 511.00 214.00)">1</text>
<text x="606.50" y="173.00" font-size="7.6" font-weight="bold" fill="#222" textLength="79.40" lengthAdjust="spacingAndGlyphs">Геометрия пластины</text>
<text x="632.60" y="202.20" font-size="7.6" font-weight="bold" fill="#222" textLength="27.20" lengthAdjust="spacingAndGlyphs">Подача</text>
<text x="629.30" y="211.20" font-size="7.6" font-weight="bold" fill="#222" textLength="34.20" lengthAdjust="spacingAndGlyphs">f [мм/об]</text>
<text x="578.70" y="254.20" font-size="7.6" font-weight="bold" fill="#222" textLength="53.80" lengthAdjust="spacingAndGlyphs">–E47 / –MP4 /</text>
<text x="579.80" y="263.20" font-size="7.6" font-weight="bold" fill="#222" textLength="52.70" lengthAdjust="spacingAndGlyphs">–MK4 / –MM4</text>
<text x="659.00" y="254.20" font-size="7.6" font-weight="bold" fill="#222" textLength="54.50" lengthAdjust="spacingAndGlyphs">–PM5 / –RP4 /</text>
<text x="661.70" y="263.20" font-size="7.6" font-weight="bold" fill="#222" textLength="49.10" lengthAdjust="spacingAndGlyphs">–RK4 / –RM4</text>
<text x="594.20" y="281.40" font-size="7.5" fill="#626262" textLength="5.20" lengthAdjust="spacingAndGlyphs">D</text>
<text x="599.60" y="283.00" font-size="4.8" fill="#626262" textLength="2.40" lengthAdjust="spacingAndGlyphs">c</text>
<text x="603.40" y="281.40" font-size="7.5" fill="#626262" textLength="15.10" lengthAdjust="spacingAndGlyphs">[мм]</text>
<text x="573.50" y="303.50" font-size="7.5" fill="#626262" textLength="12.40" lengthAdjust="spacingAndGlyphs">&lt;44</text>
<text x="593.80" y="303.50" font-size="7.5" fill="#626262" textLength="24.20" lengthAdjust="spacingAndGlyphs">&gt;44-73</text>
<text x="627.00" y="303.50" font-size="7.5" fill="#626262" textLength="11.80" lengthAdjust="spacingAndGlyphs">&gt;73</text>
<text x="674.40" y="281.40" font-size="7.5" fill="#626262" textLength="5.20" lengthAdjust="spacingAndGlyphs">D</text>
<text x="679.80" y="283.00" font-size="4.8" fill="#626262" textLength="2.40" lengthAdjust="spacingAndGlyphs">c</text>
<text x="683.60" y="281.40" font-size="7.5" fill="#626262" textLength="15.10" lengthAdjust="spacingAndGlyphs">[мм]</text>
<text x="653.70" y="303.50" font-size="7.5" fill="#626262" textLength="12.40" lengthAdjust="spacingAndGlyphs">&lt;44</text>
<text x="674.00" y="303.50" font-size="7.5" fill="#626262" textLength="24.20" lengthAdjust="spacingAndGlyphs">&gt;44-73</text>
<text x="707.20" y="303.50" font-size="7.5" fill="#626262" textLength="11.80" lengthAdjust="spacingAndGlyphs">&gt;73</text>
<g transform="translate(83.60 158.70) scale(1.0)" fill="none" stroke="#1a1a1a" stroke-width="0.95" stroke-linecap="butt" stroke-linejoin="round"><path d="M0 4.3 H9.4 C10.6 4.3 11.1 3.4 11.6 2.3 L12.3 0.5"/><path d="M12.9 0.5 L14.3 2.7 C16.6 4.4 18.1 6.6 18.1 10 L17.9 12.9"/><path d="M0 7.3 H13.9 C15.4 7.6 15.9 9 15.9 11 V12.9"/><path d="M6.4 4.3 V7.3" stroke-width="1.1"/><path d="M8.4 0 H16.9" stroke-width="1.4"/></g>
<g transform="translate(83.60 174.70) scale(1.0)" fill="none" stroke="#1a1a1a" stroke-width="0.95" stroke-linecap="butt" stroke-linejoin="round"><path d="M0 4.3 H9.4 C10.6 4.3 11.1 3.4 11.6 2.3 L12.3 0.5"/><path d="M12.9 0.5 L14.3 2.7 C16.6 4.4 18.1 6.6 18.1 10 L17.9 12.9"/><path d="M0 7.3 H13.9 C15.4 7.6 15.9 9 15.9 11 V12.9"/><path d="M6.4 4.3 V7.3" stroke-width="1.1"/><path d="M8.4 0 H16.9" stroke-width="1.4"/><path d="M5.8 2.0 L17.9 12.4 M17.9 2.0 L5.8 12.4" stroke-width="2.0" stroke="#111"/></g>
<g transform="translate(525.90 293.10) scale(0.97)" fill="none" stroke="#1a1a1a" stroke-width="0.95" stroke-linecap="butt" stroke-linejoin="round"><path d="M0 4.3 H9.4 C10.6 4.3 11.1 3.4 11.6 2.3 L12.3 0.5"/><path d="M12.9 0.5 L14.3 2.7 C16.6 4.4 18.1 6.6 18.1 10 L17.9 12.9"/><path d="M0 7.3 H13.9 C15.4 7.6 15.9 9 15.9 11 V12.9"/><path d="M6.4 4.3 V7.3" stroke-width="1.1"/><path d="M8.4 0 H16.9" stroke-width="1.4"/></g>
<g transform="translate(546.25 292.80) scale(0.97)" fill="none" stroke="#1a1a1a" stroke-width="0.95" stroke-linecap="butt" stroke-linejoin="round"><path d="M0 4.3 H9.4 C10.6 4.3 11.1 3.4 11.6 2.3 L12.3 0.5"/><path d="M12.9 0.5 L14.3 2.7 C16.6 4.4 18.1 6.6 18.1 10 L17.9 12.9"/><path d="M0 7.3 H13.9 C15.4 7.6 15.9 9 15.9 11 V12.9"/><path d="M6.4 4.3 V7.3" stroke-width="1.1"/><path d="M8.4 0 H16.9" stroke-width="1.4"/><path d="M5.8 2.0 L17.9 12.4 M17.9 2.0 L5.8 12.4" stroke-width="2.0" stroke="#111"/></g>
<text x="105.60" y="166.90" font-size="7.5" fill="#333" textLength="171.20" lengthAdjust="spacingAndGlyphs">= режимы резания для обработки с подачей СОЖ</text>
<text x="105.60" y="182.75" font-size="7.5" fill="#333" textLength="110.40" lengthAdjust="spacingAndGlyphs">= возможна обработка без СОЖ</text>
</g>
<g id="footnotes">
<text x="61.40" y="976.20" font-size="4.6" fill="#333" textLength="2.30" lengthAdjust="spacingAndGlyphs">1</text>
<text x="65.40" y="979.30" font-size="7.7" fill="#333" textLength="223.50" lengthAdjust="spacingAndGlyphs">Классификацию по группам обрабатываемости см. на стр. B 1174.</text>
<circle cx="63.1" cy="998.6" r="2.1" fill="#151515"/><circle cx="68.7" cy="998.6" r="2.1" fill="#151515"/>
<circle cx="63.1" cy="1008.5" r="2.1" fill="#151515"/>
<text x="76.40" y="1001.00" font-size="7.7" fill="#333" textLength="426.60" lengthAdjust="spacingAndGlyphs">Рекомендуемая область применения (указанные режимы резания являются начальными значениями для данной области).</text>
<text x="76.40" y="1011.00" font-size="7.7" fill="#333" textLength="182.60" lengthAdjust="spacingAndGlyphs">Возможная область применения. Скорость резания v</text>
<text x="260.00" y="1012.60" font-size="4.8" fill="#333" textLength="2.40" lengthAdjust="spacingAndGlyphs">c</text>
<text x="265.40" y="1011.00" font-size="7.7" fill="#333" textLength="223.00" lengthAdjust="spacingAndGlyphs">–30 %, с охлаждением сжатым воздухом или масляным туманом.</text>
</g>
<g id="page-footer">
<text x="61.25" y="1098.00" font-size="9.4" font-weight="bold" fill="#222" textLength="23.30" lengthAdjust="spacingAndGlyphs">B 622</text>
<text x="103.00" y="1098.00" font-size="9.4" font-weight="bold" fill="#222" textLength="310.40" lengthAdjust="spacingAndGlyphs">Техническая информация – Черновые и чистовые расточные оправки</text>
</g>
</svg>
</body></html>
